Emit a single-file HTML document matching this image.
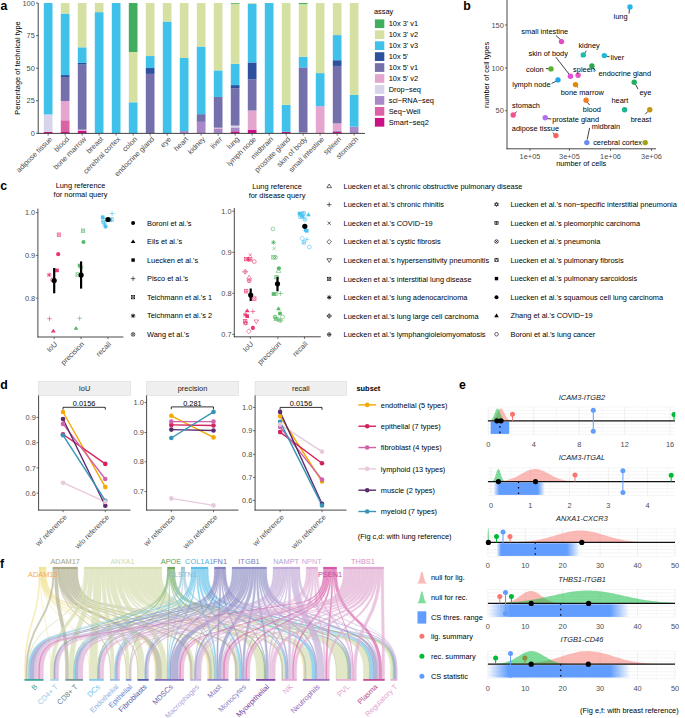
<!DOCTYPE html><html><head><meta charset="utf-8"><style>html,body{margin:0;padding:0;background:#fff;}svg{display:block;}text{font-family:"Liberation Sans",sans-serif;}</style></head><body>
<svg width="685" height="718" viewBox="0 0 685 718">
<rect width="685" height="718" fill="#fff"/>
<text x="0.40" y="9.80" font-size="12.3" text-anchor="start" fill="#000" font-weight="bold">a</text>
<rect x="43.80" y="132.00" width="8.70" height="1.30" fill="#cb0f85"/>
<rect x="43.80" y="114.41" width="8.70" height="17.59" fill="#d6d3ea"/>
<rect x="43.80" y="3.03" width="8.70" height="111.38" fill="#3fc1ea"/>
<line x1="48.15" y1="133.50" x2="48.15" y2="135.60" stroke="#333" stroke-width="0.7"/>
<text x="52.75" y="139.60" font-size="7.4" text-anchor="end" fill="#4d4d4d" transform="rotate(-45 52.75 139.60)">adipose tissue</text>
<rect x="60.80" y="132.00" width="8.70" height="1.30" fill="#cb0f85"/>
<rect x="60.80" y="120.27" width="8.70" height="11.72" fill="#dc62a6"/>
<rect x="60.80" y="100.99" width="8.70" height="19.28" fill="#e4a6ce"/>
<rect x="60.80" y="77.02" width="8.70" height="23.97" fill="#7470ac"/>
<rect x="60.80" y="75.07" width="8.70" height="1.95" fill="#2c519d"/>
<rect x="60.80" y="13.58" width="8.70" height="61.49" fill="#3fc1ea"/>
<rect x="60.80" y="3.03" width="8.70" height="10.55" fill="#d5e1a3"/>
<line x1="65.15" y1="133.50" x2="65.15" y2="135.60" stroke="#333" stroke-width="0.7"/>
<text x="69.75" y="139.60" font-size="7.4" text-anchor="end" fill="#4d4d4d" transform="rotate(-45 69.75 139.60)">blood</text>
<rect x="77.80" y="130.96" width="8.70" height="2.34" fill="#cb0f85"/>
<rect x="77.80" y="129.65" width="8.70" height="1.30" fill="#e4a6ce"/>
<rect x="77.80" y="64.65" width="8.70" height="65.00" fill="#7470ac"/>
<rect x="77.80" y="62.95" width="8.70" height="1.69" fill="#2c519d"/>
<rect x="77.80" y="47.32" width="8.70" height="15.63" fill="#3fc1ea"/>
<rect x="77.80" y="3.03" width="8.70" height="44.29" fill="#d5e1a3"/>
<line x1="82.15" y1="133.50" x2="82.15" y2="135.60" stroke="#333" stroke-width="0.7"/>
<text x="86.75" y="139.60" font-size="7.4" text-anchor="end" fill="#4d4d4d" transform="rotate(-45 86.75 139.60)">bone marrow</text>
<rect x="94.80" y="12.15" width="8.70" height="121.15" fill="#3fc1ea"/>
<rect x="94.80" y="3.03" width="8.70" height="9.12" fill="#d5e1a3"/>
<line x1="99.15" y1="133.50" x2="99.15" y2="135.60" stroke="#333" stroke-width="0.7"/>
<text x="103.75" y="139.60" font-size="7.4" text-anchor="end" fill="#4d4d4d" transform="rotate(-45 103.75 139.60)">breast</text>
<rect x="111.80" y="3.03" width="8.70" height="130.27" fill="#3fc1ea"/>
<line x1="116.15" y1="133.50" x2="116.15" y2="135.60" stroke="#333" stroke-width="0.7"/>
<text x="120.75" y="139.60" font-size="7.4" text-anchor="end" fill="#4d4d4d" transform="rotate(-45 120.75 139.60)">cerebral cortex</text>
<rect x="128.80" y="102.30" width="8.70" height="31.00" fill="#3fc1ea"/>
<rect x="128.80" y="52.01" width="8.70" height="50.28" fill="#d5e1a3"/>
<rect x="128.80" y="3.03" width="8.70" height="48.98" fill="#41ae5f"/>
<line x1="133.15" y1="133.50" x2="133.15" y2="135.60" stroke="#333" stroke-width="0.7"/>
<text x="137.75" y="139.60" font-size="7.4" text-anchor="end" fill="#4d4d4d" transform="rotate(-45 137.75 139.60)">colon</text>
<rect x="145.80" y="73.90" width="8.70" height="59.40" fill="#7470ac"/>
<rect x="145.80" y="68.03" width="8.70" height="5.86" fill="#2c519d"/>
<rect x="145.80" y="56.05" width="8.70" height="11.98" fill="#3fc1ea"/>
<rect x="145.80" y="3.03" width="8.70" height="53.02" fill="#d5e1a3"/>
<line x1="150.15" y1="133.50" x2="150.15" y2="135.60" stroke="#333" stroke-width="0.7"/>
<text x="154.75" y="139.60" font-size="7.4" text-anchor="end" fill="#4d4d4d" transform="rotate(-45 154.75 139.60)">endocrine gland</text>
<rect x="162.80" y="21.53" width="8.70" height="111.77" fill="#3fc1ea"/>
<rect x="162.80" y="3.03" width="8.70" height="18.50" fill="#d5e1a3"/>
<line x1="167.15" y1="133.50" x2="167.15" y2="135.60" stroke="#333" stroke-width="0.7"/>
<text x="171.75" y="139.60" font-size="7.4" text-anchor="end" fill="#4d4d4d" transform="rotate(-45 171.75 139.60)">eye</text>
<rect x="179.80" y="131.09" width="8.70" height="2.21" fill="#a888c8"/>
<rect x="179.80" y="58.00" width="8.70" height="73.08" fill="#3fc1ea"/>
<rect x="179.80" y="3.03" width="8.70" height="54.97" fill="#d5e1a3"/>
<line x1="184.15" y1="133.50" x2="184.15" y2="135.60" stroke="#333" stroke-width="0.7"/>
<text x="188.75" y="139.60" font-size="7.4" text-anchor="end" fill="#4d4d4d" transform="rotate(-45 188.75 139.60)">heart</text>
<rect x="196.80" y="121.84" width="8.70" height="11.46" fill="#a888c8"/>
<rect x="196.80" y="114.15" width="8.70" height="7.69" fill="#7470ac"/>
<rect x="196.80" y="46.54" width="8.70" height="67.61" fill="#3fc1ea"/>
<rect x="196.80" y="3.03" width="8.70" height="43.51" fill="#d5e1a3"/>
<line x1="201.15" y1="133.50" x2="201.15" y2="135.60" stroke="#333" stroke-width="0.7"/>
<text x="205.75" y="139.60" font-size="7.4" text-anchor="end" fill="#4d4d4d" transform="rotate(-45 205.75 139.60)">kidney</text>
<rect x="213.80" y="128.74" width="8.70" height="4.56" fill="#a888c8"/>
<rect x="213.80" y="127.70" width="8.70" height="1.04" fill="#e4a6ce"/>
<rect x="213.80" y="96.95" width="8.70" height="30.74" fill="#7470ac"/>
<rect x="213.80" y="70.38" width="8.70" height="26.58" fill="#3fc1ea"/>
<rect x="213.80" y="3.03" width="8.70" height="67.35" fill="#d5e1a3"/>
<line x1="218.15" y1="133.50" x2="218.15" y2="135.60" stroke="#333" stroke-width="0.7"/>
<text x="222.75" y="139.60" font-size="7.4" text-anchor="end" fill="#4d4d4d" transform="rotate(-45 222.75 139.60)">liver</text>
<rect x="230.80" y="131.35" width="8.70" height="1.95" fill="#cb0f85"/>
<rect x="230.80" y="127.44" width="8.70" height="3.91" fill="#a888c8"/>
<rect x="230.80" y="125.61" width="8.70" height="1.82" fill="#d6d3ea"/>
<rect x="230.80" y="88.23" width="8.70" height="37.39" fill="#7470ac"/>
<rect x="230.80" y="85.10" width="8.70" height="3.13" fill="#2c519d"/>
<rect x="230.80" y="63.87" width="8.70" height="21.23" fill="#3fc1ea"/>
<rect x="230.80" y="3.81" width="8.70" height="60.05" fill="#d5e1a3"/>
<rect x="230.80" y="3.03" width="8.70" height="0.78" fill="#41ae5f"/>
<line x1="235.15" y1="133.50" x2="235.15" y2="135.60" stroke="#333" stroke-width="0.7"/>
<text x="239.75" y="139.60" font-size="7.4" text-anchor="end" fill="#4d4d4d" transform="rotate(-45 239.75 139.60)">lung</text>
<rect x="247.80" y="129.65" width="8.70" height="3.65" fill="#cb0f85"/>
<rect x="247.80" y="110.50" width="8.70" height="19.15" fill="#e4a6ce"/>
<rect x="247.80" y="79.37" width="8.70" height="31.13" fill="#7470ac"/>
<rect x="247.80" y="62.43" width="8.70" height="16.94" fill="#2c519d"/>
<rect x="247.80" y="3.68" width="8.70" height="58.75" fill="#3fc1ea"/>
<rect x="247.80" y="3.03" width="8.70" height="0.65" fill="#d5e1a3"/>
<line x1="252.15" y1="133.50" x2="252.15" y2="135.60" stroke="#333" stroke-width="0.7"/>
<text x="256.75" y="139.60" font-size="7.4" text-anchor="end" fill="#4d4d4d" transform="rotate(-45 256.75 139.60)">lymph node</text>
<rect x="264.80" y="3.03" width="8.70" height="130.27" fill="#3fc1ea"/>
<line x1="269.15" y1="133.50" x2="269.15" y2="135.60" stroke="#333" stroke-width="0.7"/>
<text x="273.75" y="139.60" font-size="7.4" text-anchor="end" fill="#4d4d4d" transform="rotate(-45 273.75 139.60)">midbrain</text>
<rect x="281.80" y="131.74" width="8.70" height="1.56" fill="#cb0f85"/>
<rect x="281.80" y="104.90" width="8.70" height="26.84" fill="#3fc1ea"/>
<rect x="281.80" y="3.03" width="8.70" height="101.87" fill="#d5e1a3"/>
<line x1="286.15" y1="133.50" x2="286.15" y2="135.60" stroke="#333" stroke-width="0.7"/>
<text x="290.75" y="139.60" font-size="7.4" text-anchor="end" fill="#4d4d4d" transform="rotate(-45 290.75 139.60)">prostate gland</text>
<rect x="298.80" y="132.52" width="8.70" height="0.78" fill="#e4a6ce"/>
<rect x="298.80" y="67.38" width="8.70" height="65.13" fill="#7470ac"/>
<rect x="298.80" y="56.70" width="8.70" height="10.68" fill="#3fc1ea"/>
<rect x="298.80" y="4.07" width="8.70" height="52.63" fill="#d5e1a3"/>
<rect x="298.80" y="3.03" width="8.70" height="1.04" fill="#41ae5f"/>
<line x1="303.15" y1="133.50" x2="303.15" y2="135.60" stroke="#333" stroke-width="0.7"/>
<text x="307.75" y="139.60" font-size="7.4" text-anchor="end" fill="#4d4d4d" transform="rotate(-45 307.75 139.60)">skin of body</text>
<rect x="315.80" y="106.20" width="8.70" height="27.10" fill="#e4a6ce"/>
<rect x="315.80" y="73.12" width="8.70" height="33.09" fill="#3fc1ea"/>
<rect x="315.80" y="3.03" width="8.70" height="70.09" fill="#d5e1a3"/>
<line x1="320.15" y1="133.50" x2="320.15" y2="135.60" stroke="#333" stroke-width="0.7"/>
<text x="324.75" y="139.60" font-size="7.4" text-anchor="end" fill="#4d4d4d" transform="rotate(-45 324.75 139.60)">small intestine</text>
<rect x="332.80" y="132.00" width="8.70" height="1.30" fill="#cb0f85"/>
<rect x="332.80" y="130.56" width="8.70" height="1.43" fill="#a888c8"/>
<rect x="332.80" y="123.40" width="8.70" height="7.16" fill="#e4a6ce"/>
<rect x="332.80" y="65.95" width="8.70" height="57.45" fill="#7470ac"/>
<rect x="332.80" y="60.22" width="8.70" height="5.73" fill="#2c519d"/>
<rect x="332.80" y="35.08" width="8.70" height="25.14" fill="#3fc1ea"/>
<rect x="332.80" y="3.03" width="8.70" height="32.05" fill="#d5e1a3"/>
<line x1="337.15" y1="133.50" x2="337.15" y2="135.60" stroke="#333" stroke-width="0.7"/>
<text x="341.75" y="139.60" font-size="7.4" text-anchor="end" fill="#4d4d4d" transform="rotate(-45 341.75 139.60)">spleen</text>
<rect x="349.80" y="126.66" width="8.70" height="6.64" fill="#a888c8"/>
<rect x="349.80" y="94.87" width="8.70" height="31.79" fill="#3fc1ea"/>
<rect x="349.80" y="3.03" width="8.70" height="91.84" fill="#d5e1a3"/>
<line x1="354.15" y1="133.50" x2="354.15" y2="135.60" stroke="#333" stroke-width="0.7"/>
<text x="358.75" y="139.60" font-size="7.4" text-anchor="end" fill="#4d4d4d" transform="rotate(-45 358.75 139.60)">stomach</text>
<line x1="38.20" y1="3.00" x2="38.20" y2="133.90" stroke="#444" stroke-width="1.0"/>
<line x1="37.70" y1="133.40" x2="365.00" y2="133.40" stroke="#444" stroke-width="1.0"/>
<line x1="36.00" y1="133.30" x2="38.20" y2="133.30" stroke="#444" stroke-width="0.8"/>
<text x="34.80" y="135.96" font-size="7.4" text-anchor="end" fill="#4d4d4d">0</text>
<line x1="36.00" y1="100.73" x2="38.20" y2="100.73" stroke="#444" stroke-width="0.8"/>
<text x="34.80" y="103.40" font-size="7.4" text-anchor="end" fill="#4d4d4d">25</text>
<line x1="36.00" y1="68.17" x2="38.20" y2="68.17" stroke="#444" stroke-width="0.8"/>
<text x="34.80" y="70.83" font-size="7.4" text-anchor="end" fill="#4d4d4d">50</text>
<line x1="36.00" y1="35.60" x2="38.20" y2="35.60" stroke="#444" stroke-width="0.8"/>
<text x="34.80" y="38.26" font-size="7.4" text-anchor="end" fill="#4d4d4d">75</text>
<line x1="36.00" y1="3.03" x2="38.20" y2="3.03" stroke="#444" stroke-width="0.8"/>
<text x="34.80" y="5.69" font-size="7.4" text-anchor="end" fill="#4d4d4d">100</text>
<text x="20.16" y="68.00" font-size="7.4" text-anchor="middle" fill="#000" transform="rotate(-90 20.16 68.00)">Percentage of technical type</text>
<text x="374.00" y="14.26" font-size="7.4" text-anchor="start" fill="#000">assay</text>
<rect x="374.90" y="19.40" width="9.40" height="8.70" fill="#41ae5f"/>
<text x="388.70" y="26.41" font-size="7.4" text-anchor="start" fill="#000">10x 3' v1</text>
<rect x="374.90" y="30.35" width="9.40" height="8.70" fill="#d5e1a3"/>
<text x="388.70" y="37.36" font-size="7.4" text-anchor="start" fill="#000">10x 3' v2</text>
<rect x="374.90" y="41.30" width="9.40" height="8.70" fill="#3fc1ea"/>
<text x="388.70" y="48.31" font-size="7.4" text-anchor="start" fill="#000">10x 3' v3</text>
<rect x="374.90" y="52.25" width="9.40" height="8.70" fill="#2c519d"/>
<text x="388.70" y="59.26" font-size="7.4" text-anchor="start" fill="#000">10x 5'</text>
<rect x="374.90" y="63.20" width="9.40" height="8.70" fill="#7470ac"/>
<text x="388.70" y="70.21" font-size="7.4" text-anchor="start" fill="#000">10x 5' v1</text>
<rect x="374.90" y="74.15" width="9.40" height="8.70" fill="#e4a6ce"/>
<text x="388.70" y="81.16" font-size="7.4" text-anchor="start" fill="#000">10x 5' v2</text>
<rect x="374.90" y="85.10" width="9.40" height="8.70" fill="#d6d3ea"/>
<text x="388.70" y="92.11" font-size="7.4" text-anchor="start" fill="#000">Drop−seq</text>
<rect x="374.90" y="96.05" width="9.40" height="8.70" fill="#a888c8"/>
<text x="388.70" y="103.06" font-size="7.4" text-anchor="start" fill="#000">sci−RNA−seq</text>
<rect x="374.90" y="107.00" width="9.40" height="8.70" fill="#dc62a6"/>
<text x="388.70" y="114.01" font-size="7.4" text-anchor="start" fill="#000">Seq−Well</text>
<rect x="374.90" y="117.95" width="9.40" height="8.70" fill="#cb0f85"/>
<text x="388.70" y="124.96" font-size="7.4" text-anchor="start" fill="#000">Smart−seq2</text>
<text x="463.30" y="9.80" font-size="12.3" text-anchor="start" fill="#000" font-weight="bold">b</text>
<line x1="507.00" y1="0.00" x2="507.00" y2="149.20" stroke="#333" stroke-width="0.9"/>
<line x1="506.60" y1="148.80" x2="656.00" y2="148.80" stroke="#333" stroke-width="0.9"/>
<line x1="504.90" y1="25.00" x2="507.00" y2="25.00" stroke="#333" stroke-width="0.7"/>
<text x="503.80" y="27.66" font-size="7.4" text-anchor="end" fill="#4d4d4d">150</text>
<line x1="504.90" y1="68.00" x2="507.00" y2="68.00" stroke="#333" stroke-width="0.7"/>
<text x="503.80" y="70.66" font-size="7.4" text-anchor="end" fill="#4d4d4d">100</text>
<line x1="504.90" y1="110.70" x2="507.00" y2="110.70" stroke="#333" stroke-width="0.7"/>
<text x="503.80" y="113.36" font-size="7.4" text-anchor="end" fill="#4d4d4d">50</text>
<line x1="530.00" y1="148.80" x2="530.00" y2="150.90" stroke="#333" stroke-width="0.7"/>
<text x="530.00" y="158.56" font-size="7.4" text-anchor="middle" fill="#4d4d4d">1e+05</text>
<line x1="569.40" y1="148.80" x2="569.40" y2="150.90" stroke="#333" stroke-width="0.7"/>
<text x="569.40" y="158.56" font-size="7.4" text-anchor="middle" fill="#4d4d4d">3e+05</text>
<line x1="610.50" y1="148.80" x2="610.50" y2="150.90" stroke="#333" stroke-width="0.7"/>
<text x="610.50" y="158.56" font-size="7.4" text-anchor="middle" fill="#4d4d4d">1e+06</text>
<line x1="651.50" y1="148.80" x2="651.50" y2="150.90" stroke="#333" stroke-width="0.7"/>
<text x="651.50" y="158.56" font-size="7.4" text-anchor="middle" fill="#4d4d4d">3e+06</text>
<text x="581.20" y="166.46" font-size="7.4" text-anchor="middle" fill="#000">number of cells</text>
<text x="488.96" y="74.90" font-size="7.4" text-anchor="middle" fill="#000" transform="rotate(-90 488.96 74.90)">number of cell types</text>
<line x1="629.50" y1="8.90" x2="629.00" y2="13.50" stroke="#000" stroke-width="0.75"/>
<line x1="555.90" y1="35.50" x2="560.60" y2="39.70" stroke="#000" stroke-width="0.75"/>
<line x1="584.50" y1="53.50" x2="586.30" y2="50.80" stroke="#000" stroke-width="0.75"/>
<line x1="606.00" y1="56.00" x2="609.50" y2="56.80" stroke="#000" stroke-width="0.75"/>
<line x1="555.90" y1="57.20" x2="569.50" y2="74.70" stroke="#000" stroke-width="0.75"/>
<line x1="592.60" y1="67.30" x2="595.60" y2="70.50" stroke="#000" stroke-width="0.75"/>
<line x1="545.90" y1="68.50" x2="549.40" y2="68.90" stroke="#000" stroke-width="0.75"/>
<line x1="551.70" y1="83.40" x2="556.90" y2="80.80" stroke="#000" stroke-width="0.75"/>
<line x1="576.20" y1="86.00" x2="577.90" y2="87.40" stroke="#000" stroke-width="0.75"/>
<line x1="635.30" y1="84.10" x2="638.10" y2="89.20" stroke="#000" stroke-width="0.75"/>
<line x1="587.20" y1="102.20" x2="589.60" y2="105.00" stroke="#000" stroke-width="0.75"/>
<line x1="648.00" y1="111.30" x2="645.20" y2="114.30" stroke="#000" stroke-width="0.75"/>
<line x1="514.30" y1="113.90" x2="516.70" y2="111.50" stroke="#000" stroke-width="0.75"/>
<line x1="547.00" y1="118.50" x2="551.30" y2="119.00" stroke="#000" stroke-width="0.75"/>
<line x1="552.90" y1="132.60" x2="554.60" y2="134.40" stroke="#000" stroke-width="0.75"/>
<line x1="587.20" y1="139.60" x2="589.60" y2="127.90" stroke="#000" stroke-width="0.75"/>
<circle cx="630.00" cy="7.00" r="2.7" fill="#26b5e9"/>
<circle cx="561.50" cy="41.60" r="2.7" fill="#e24bc4"/>
<circle cx="583.30" cy="54.90" r="2.7" fill="#1abdb0"/>
<circle cx="604.30" cy="55.60" r="2.7" fill="#22b7d4"/>
<circle cx="570.40" cy="76.20" r="2.7" fill="#e64bd6"/>
<circle cx="591.90" cy="65.90" r="2.7" fill="#2aa84a"/>
<circle cx="551.00" cy="68.90" r="2.7" fill="#5ab02e"/>
<circle cx="558.00" cy="79.90" r="2.7" fill="#1fa7ea"/>
<circle cx="575.50" cy="84.60" r="2.7" fill="#e0890b"/>
<circle cx="578.10" cy="75.20" r="2.7" fill="#e853c2"/>
<circle cx="634.20" cy="82.20" r="2.7" fill="#25ae62"/>
<circle cx="586.10" cy="100.30" r="2.7" fill="#f47b20"/>
<circle cx="624.60" cy="109.70" r="2.7" fill="#1fb38f"/>
<circle cx="649.80" cy="109.70" r="2.7" fill="#c0990e"/>
<circle cx="513.20" cy="115.00" r="2.7" fill="#f3508e"/>
<circle cx="545.20" cy="117.80" r="2.7" fill="#b46ef5"/>
<circle cx="555.90" cy="135.60" r="2.7" fill="#f4625e"/>
<circle cx="586.80" cy="142.60" r="2.7" fill="#6a8cf2"/>
<circle cx="645.20" cy="142.60" r="2.7" fill="#a3a30d"/>
<text x="620.60" y="19.46" font-size="7.4" text-anchor="middle" fill="#000">lung</text>
<text x="544.70" y="33.76" font-size="7.4" text-anchor="middle" fill="#000">small intestine</text>
<text x="589.10" y="48.46" font-size="7.4" text-anchor="middle" fill="#000">kidney</text>
<text x="610.60" y="59.86" font-size="7.4" text-anchor="start" fill="#000">liver</text>
<text x="548.20" y="55.96" font-size="7.4" text-anchor="middle" fill="#000">skin of body</text>
<text x="624.80" y="76.26" font-size="7.4" text-anchor="middle" fill="#000">endocrine gland</text>
<text x="534.90" y="72.06" font-size="7.4" text-anchor="middle" fill="#000">colon</text>
<text x="531.40" y="87.26" font-size="7.4" text-anchor="middle" fill="#000">lymph node</text>
<text x="582.30" y="95.16" font-size="7.4" text-anchor="middle" fill="#000">bone marrow</text>
<text x="584.00" y="72.06" font-size="7.4" text-anchor="middle" fill="#000">spleen</text>
<text x="645.40" y="94.96" font-size="7.4" text-anchor="middle" fill="#000">eye</text>
<text x="591.90" y="112.36" font-size="7.4" text-anchor="middle" fill="#000">blood</text>
<text x="619.90" y="103.26" font-size="7.4" text-anchor="middle" fill="#000">heart</text>
<text x="641.00" y="121.86" font-size="7.4" text-anchor="middle" fill="#000">breast</text>
<text x="526.00" y="108.36" font-size="7.4" text-anchor="middle" fill="#000">stomach</text>
<text x="552.20" y="121.86" font-size="7.4" text-anchor="start" fill="#000">prostate gland</text>
<text x="535.40" y="130.56" font-size="7.4" text-anchor="middle" fill="#000">adipose tissue</text>
<text x="605.90" y="128.66" font-size="7.4" text-anchor="middle" fill="#000">midbrain</text>
<text x="617.60" y="145.26" font-size="7.4" text-anchor="middle" fill="#000">cerebral cortex</text>
<text x="0.20" y="189.70" font-size="12.3" text-anchor="start" fill="#000" font-weight="bold">c</text>
<text x="80.50" y="188.36" font-size="7.4" text-anchor="middle" fill="#000">Lung reference</text>
<text x="80.50" y="197.06" font-size="7.4" text-anchor="middle" fill="#000">for normal query</text>
<line x1="37.90" y1="208.60" x2="37.90" y2="337.40" stroke="#333" stroke-width="0.9"/>
<line x1="37.50" y1="337.00" x2="123.40" y2="337.00" stroke="#333" stroke-width="0.9"/>
<line x1="35.80" y1="212.60" x2="37.90" y2="212.60" stroke="#333" stroke-width="0.7"/>
<text x="35.20" y="215.26" font-size="7.4" text-anchor="end" fill="#4d4d4d">1.0</text>
<line x1="35.80" y1="255.40" x2="37.90" y2="255.40" stroke="#333" stroke-width="0.7"/>
<text x="35.20" y="258.06" font-size="7.4" text-anchor="end" fill="#4d4d4d">0.9</text>
<line x1="35.80" y1="298.10" x2="37.90" y2="298.10" stroke="#333" stroke-width="0.7"/>
<text x="35.20" y="300.76" font-size="7.4" text-anchor="end" fill="#4d4d4d">0.8</text>
<line x1="54.20" y1="337.00" x2="54.20" y2="339.10" stroke="#333" stroke-width="0.7"/>
<text x="57.80" y="344.60" font-size="7.4" text-anchor="end" fill="#4d4d4d" transform="rotate(-45 57.80 344.60)">IoU</text>
<line x1="81.10" y1="337.00" x2="81.10" y2="339.10" stroke="#333" stroke-width="0.7"/>
<text x="84.70" y="344.60" font-size="7.4" text-anchor="end" fill="#4d4d4d" transform="rotate(-45 84.70 344.60)">precision</text>
<line x1="108.00" y1="337.00" x2="108.00" y2="339.10" stroke="#333" stroke-width="0.7"/>
<text x="111.60" y="344.60" font-size="7.4" text-anchor="end" fill="#4d4d4d" transform="rotate(-45 111.60 344.60)">recall</text>
<rect x="57.20" y="233.00" width="3.40" height="3.40" fill="none" stroke="#e8386e" stroke-width="0.6"/>
<path d="M57.20 233.00L60.60 236.40M57.20 236.40L60.60 233.00" fill="none" stroke="#e8386e" stroke-width="0.6"/>
<circle cx="58.20" cy="254.20" r="2.10" fill="#e8386e"/>
<rect x="55.20" y="268.60" width="3.60" height="3.60" fill="#e8386e"/>
<path d="M46.90 274.90H51.50M49.20 272.60V277.20M47.48 273.17L50.93 276.62M47.48 276.62L50.93 273.17" fill="none" stroke="#e8386e" stroke-width="0.78"/>
<circle cx="52.50" cy="279.80" r="1.90" fill="none" stroke="#e8386e" stroke-width="0.6"/>
<path d="M51.17 278.47L53.83 281.13M51.17 281.13L53.83 278.47" fill="none" stroke="#e8386e" stroke-width="0.6"/>
<path d="M47.10 318.70H51.90M49.50 316.30V321.10" fill="none" stroke="#e8386e" stroke-width="0.6"/>
<polygon points="53.30,328.70 50.88,332.55 55.72,332.55" fill="#e8386e"/>
<rect x="81.30" y="229.00" width="3.40" height="3.40" fill="none" stroke="#5ab86a" stroke-width="0.6"/>
<path d="M81.30 229.00L84.70 232.40M81.30 232.40L84.70 229.00" fill="none" stroke="#5ab86a" stroke-width="0.6"/>
<circle cx="83.50" cy="242.00" r="2.10" fill="#5ab86a"/>
<rect x="77.80" y="263.70" width="3.60" height="3.60" fill="#5ab86a"/>
<path d="M78.80 267.30H83.40M81.10 265.00V269.60M79.38 265.57L82.82 269.03M79.38 269.03L82.82 265.57" fill="none" stroke="#5ab86a" stroke-width="0.78"/>
<rect x="76.00" y="272.80" width="3.40" height="3.40" fill="none" stroke="#5ab86a" stroke-width="0.6"/>
<path d="M76.00 272.80L79.40 276.20M76.00 276.20L79.40 272.80" fill="none" stroke="#5ab86a" stroke-width="0.6"/>
<path d="M77.20 318.30H82.00M79.60 315.90V320.70" fill="none" stroke="#5ab86a" stroke-width="0.6"/>
<polygon points="76.00,325.90 73.58,329.75 78.42,329.75" fill="#5ab86a"/>
<path d="M109.70 213.50H114.50M112.10 211.10V215.90" fill="none" stroke="#4cc2f0" stroke-width="0.6"/>
<rect x="100.90" y="215.40" width="3.60" height="3.60" fill="#4cc2f0"/>
<rect x="101.90" y="217.90" width="3.40" height="3.40" fill="none" stroke="#4cc2f0" stroke-width="0.6"/>
<path d="M101.90 217.90L105.30 221.30M101.90 221.30L105.30 217.90" fill="none" stroke="#4cc2f0" stroke-width="0.6"/>
<circle cx="103.30" cy="222.00" r="1.90" fill="none" stroke="#4cc2f0" stroke-width="0.6"/>
<path d="M101.97 220.67L104.63 223.33M101.97 223.33L104.63 220.67" fill="none" stroke="#4cc2f0" stroke-width="0.6"/>
<path d="M102.30 224.00H106.90M104.60 221.70V226.30M102.88 222.28L106.32 225.72M102.88 225.72L106.32 222.28" fill="none" stroke="#4cc2f0" stroke-width="0.78"/>
<rect x="108.40" y="218.20" width="3.60" height="3.60" fill="#4cc2f0"/>
<rect x="109.80" y="217.80" width="3.40" height="3.40" fill="none" stroke="#4cc2f0" stroke-width="0.6"/>
<path d="M109.80 217.80L113.20 221.20M109.80 221.20L113.20 217.80" fill="none" stroke="#4cc2f0" stroke-width="0.6"/>
<circle cx="105.50" cy="226.60" r="2.10" fill="#4cc2f0"/>
<line x1="54.20" y1="268.00" x2="54.20" y2="293.30" stroke="#000" stroke-width="2.2"/>
<circle cx="54.20" cy="280.50" r="2.6" fill="#000"/>
<line x1="81.10" y1="261.40" x2="81.10" y2="288.60" stroke="#000" stroke-width="2.2"/>
<circle cx="81.10" cy="275.10" r="2.6" fill="#000"/>
<circle cx="108.00" cy="219.50" r="2.6" fill="#000"/>
<circle cx="133.10" cy="222.90" r="1.99" fill="#000"/>
<text x="147.00" y="225.56" font-size="7.4" text-anchor="start" fill="#000">Boroni et al.'s</text>
<polygon points="133.10,239.39 130.80,243.05 135.40,243.05" fill="#000"/>
<text x="147.00" y="244.14" font-size="7.4" text-anchor="start" fill="#000">Eils et al.'s</text>
<rect x="131.39" y="258.35" width="3.42" height="3.42" fill="#000"/>
<text x="147.00" y="262.72" font-size="7.4" text-anchor="start" fill="#000">Luecken et al.'s</text>
<path d="M130.82 278.64H135.38M133.10 276.36V280.92" fill="none" stroke="#000" stroke-width="0.6"/>
<text x="147.00" y="281.30" font-size="7.4" text-anchor="start" fill="#000">Pisco et al.'s</text>
<rect x="131.48" y="295.61" width="3.23" height="3.23" fill="none" stroke="#000" stroke-width="0.6"/>
<path d="M131.48 295.61L134.72 298.84M131.48 298.84L134.72 295.61" fill="none" stroke="#000" stroke-width="0.6"/>
<text x="147.00" y="299.88" font-size="7.4" text-anchor="start" fill="#000">Teichmann et al.'s 1</text>
<path d="M130.91 315.80H135.28M133.10 313.62V317.99M131.46 314.16L134.74 317.44M131.46 317.44L134.74 314.16" fill="none" stroke="#000" stroke-width="0.78"/>
<text x="147.00" y="318.46" font-size="7.4" text-anchor="start" fill="#000">Teichmann et al.'s 2</text>
<circle cx="133.10" cy="334.38" r="1.80" fill="none" stroke="#000" stroke-width="0.6"/>
<path d="M131.84 333.12L134.36 335.64M131.84 335.64L134.36 333.12" fill="none" stroke="#000" stroke-width="0.6"/>
<text x="147.00" y="337.04" font-size="7.4" text-anchor="start" fill="#000">Wang et al.'s</text>
<text x="277.00" y="188.66" font-size="7.4" text-anchor="middle" fill="#000">Lung reference</text>
<text x="277.00" y="197.66" font-size="7.4" text-anchor="middle" fill="#000">for disease query</text>
<line x1="234.30" y1="208.00" x2="234.30" y2="337.20" stroke="#333" stroke-width="0.9"/>
<line x1="233.90" y1="336.80" x2="320.80" y2="336.80" stroke="#333" stroke-width="0.9"/>
<line x1="232.20" y1="211.20" x2="234.30" y2="211.20" stroke="#333" stroke-width="0.7"/>
<text x="231.60" y="213.86" font-size="7.4" text-anchor="end" fill="#4d4d4d">1.0</text>
<line x1="232.20" y1="252.30" x2="234.30" y2="252.30" stroke="#333" stroke-width="0.7"/>
<text x="231.60" y="254.96" font-size="7.4" text-anchor="end" fill="#4d4d4d">0.9</text>
<line x1="232.20" y1="293.30" x2="234.30" y2="293.30" stroke="#333" stroke-width="0.7"/>
<text x="231.60" y="295.96" font-size="7.4" text-anchor="end" fill="#4d4d4d">0.8</text>
<line x1="232.20" y1="334.40" x2="234.30" y2="334.40" stroke="#333" stroke-width="0.7"/>
<text x="231.60" y="337.06" font-size="7.4" text-anchor="end" fill="#4d4d4d">0.7</text>
<line x1="250.30" y1="336.80" x2="250.30" y2="338.90" stroke="#333" stroke-width="0.7"/>
<text x="253.90" y="344.40" font-size="7.4" text-anchor="end" fill="#4d4d4d" transform="rotate(-45 253.90 344.40)">IoU</text>
<line x1="277.90" y1="336.80" x2="277.90" y2="338.90" stroke="#333" stroke-width="0.7"/>
<text x="281.50" y="344.40" font-size="7.4" text-anchor="end" fill="#4d4d4d" transform="rotate(-45 281.50 344.40)">precision</text>
<line x1="304.50" y1="336.80" x2="304.50" y2="338.90" stroke="#333" stroke-width="0.7"/>
<text x="308.10" y="344.40" font-size="7.4" text-anchor="end" fill="#4d4d4d" transform="rotate(-45 308.10 344.40)">recall</text>
<path d="M248.60 253.30L252.00 256.70M248.60 256.70L252.00 253.30" fill="none" stroke="#e8386e" stroke-width="0.6"/>
<rect x="244.50" y="257.50" width="3.40" height="3.40" fill="none" stroke="#e8386e" stroke-width="0.6"/>
<path d="M244.50 257.50L247.90 260.90M244.50 260.90L247.90 257.50" fill="none" stroke="#e8386e" stroke-width="0.6"/>
<path d="M246.00 259.20H250.60M248.30 256.90V261.50M246.58 257.47L250.03 260.93M246.58 260.93L250.03 257.47" fill="none" stroke="#e8386e" stroke-width="0.78"/>
<rect x="248.60" y="257.70" width="3.40" height="3.40" fill="none" stroke="#e8386e" stroke-width="0.6"/>
<path d="M248.60 259.40H252.00M250.30 257.70V261.10" fill="none" stroke="#e8386e" stroke-width="0.6"/>
<circle cx="254.30" cy="261.60" r="1.90" fill="none" stroke="#e8386e" stroke-width="0.6"/>
<polygon points="245.20,269.30 247.60,271.70 245.20,274.10 242.80,271.70" fill="none" stroke="#e8386e" stroke-width="0.6"/>
<path d="M242.80 271.70H247.60M245.20 269.30V274.10" fill="none" stroke="#e8386e" stroke-width="0.6"/>
<polygon points="249.20,275.20 246.78,279.05 251.62,279.05" fill="none" stroke="#e8386e" stroke-width="0.6"/>
<circle cx="249.20" cy="280.80" r="1.90" fill="none" stroke="#e8386e" stroke-width="0.6"/>
<path d="M247.30 280.80H251.10M249.20 278.90V282.70" fill="none" stroke="#e8386e" stroke-width="0.6"/>
<rect x="244.50" y="289.60" width="3.40" height="3.40" fill="none" stroke="#e8386e" stroke-width="0.6"/>
<path d="M244.50 291.30H247.90M246.20 289.60V293.00" fill="none" stroke="#e8386e" stroke-width="0.6"/>
<rect x="252.60" y="296.90" width="3.40" height="3.40" fill="none" stroke="#e8386e" stroke-width="0.6"/>
<path d="M252.60 296.90L256.00 300.30M252.60 300.30L256.00 296.90" fill="none" stroke="#e8386e" stroke-width="0.6"/>
<polygon points="247.20,308.50 244.78,312.35 249.62,312.35" fill="#e8386e"/>
<path d="M250.50 311.50H255.30M252.90 309.10V313.90" fill="none" stroke="#e8386e" stroke-width="0.6"/>
<path d="M242.90 314.70H247.50M245.20 312.40V317.00M243.47 312.97L246.92 316.43M243.47 316.43L246.92 312.97" fill="none" stroke="#e8386e" stroke-width="0.78"/>
<rect x="245.40" y="314.40" width="3.60" height="3.60" fill="#e8386e"/>
<rect x="243.50" y="319.50" width="3.40" height="3.40" fill="none" stroke="#e8386e" stroke-width="0.6"/>
<path d="M243.50 322.90L245.20 319.50L246.90 322.90" fill="none" stroke="#e8386e" stroke-width="0.6"/>
<polygon points="245.60,321.00 243.60,324.40 247.60,324.40" fill="none" stroke="#e8386e" stroke-width="0.6"/>
<polygon points="245.60,325.40 243.60,322.00 247.60,322.00" fill="none" stroke="#e8386e" stroke-width="0.6"/>
<polygon points="256.30,323.80 253.88,319.95 258.72,319.95" fill="none" stroke="#e8386e" stroke-width="0.6"/>
<circle cx="252.90" cy="327.90" r="2.10" fill="#e8386e"/>
<polygon points="248.80,328.90 251.20,331.30 248.80,333.70 246.40,331.30" fill="none" stroke="#e8386e" stroke-width="0.6"/>
<circle cx="272.90" cy="228.90" r="1.90" fill="none" stroke="#5ab86a" stroke-width="0.6"/>
<path d="M271.20 242.40H275.80M273.50 240.10V244.70M271.77 240.68L275.23 244.12M271.77 244.12L275.23 240.68" fill="none" stroke="#5ab86a" stroke-width="0.78"/>
<path d="M272.40 246.80L275.80 250.20M272.40 250.20L275.80 246.80" fill="none" stroke="#5ab86a" stroke-width="0.6"/>
<rect x="271.80" y="255.70" width="3.40" height="3.40" fill="none" stroke="#5ab86a" stroke-width="0.6"/>
<path d="M271.80 255.70L275.20 259.10M271.80 259.10L275.20 255.70" fill="none" stroke="#5ab86a" stroke-width="0.6"/>
<circle cx="275.60" cy="257.40" r="1.90" fill="none" stroke="#5ab86a" stroke-width="0.6"/>
<path d="M274.27 256.07L276.93 258.73M274.27 258.73L276.93 256.07" fill="none" stroke="#5ab86a" stroke-width="0.6"/>
<circle cx="278.90" cy="268.30" r="2.10" fill="#5ab86a"/>
<polygon points="278.50,268.50 276.08,272.35 280.92,272.35" fill="none" stroke="#5ab86a" stroke-width="0.6"/>
<rect x="274.80" y="275.50" width="3.40" height="3.40" fill="none" stroke="#5ab86a" stroke-width="0.6"/>
<path d="M274.80 278.90L276.50 275.50L278.20 278.90" fill="none" stroke="#5ab86a" stroke-width="0.6"/>
<rect x="271.70" y="292.20" width="3.60" height="3.60" fill="#5ab86a"/>
<rect x="273.80" y="292.30" width="3.40" height="3.40" fill="none" stroke="#5ab86a" stroke-width="0.6"/>
<path d="M273.80 294.00H277.20M275.50 292.30V295.70" fill="none" stroke="#5ab86a" stroke-width="0.6"/>
<path d="M278.20 293.50H283.00M280.60 291.10V295.90" fill="none" stroke="#5ab86a" stroke-width="0.6"/>
<polygon points="278.50,306.30 276.08,310.15 280.92,310.15" fill="#5ab86a"/>
<rect x="278.20" y="311.70" width="3.60" height="3.60" fill="#5ab86a"/>
<polygon points="275.00,314.80 273.00,318.20 277.00,318.20" fill="none" stroke="#5ab86a" stroke-width="0.6"/>
<polygon points="275.00,319.20 273.00,315.80 277.00,315.80" fill="none" stroke="#5ab86a" stroke-width="0.6"/>
<polygon points="278.00,317.10 280.40,319.50 278.00,321.90 275.60,319.50" fill="none" stroke="#5ab86a" stroke-width="0.6"/>
<path d="M275.60 319.50H280.40M278.00 317.10V321.90" fill="none" stroke="#5ab86a" stroke-width="0.6"/>
<circle cx="282.60" cy="317.00" r="1.90" fill="none" stroke="#5ab86a" stroke-width="0.6"/>
<circle cx="280.50" cy="320.50" r="1.90" fill="none" stroke="#5ab86a" stroke-width="0.6"/>
<path d="M278.60 320.50H282.40M280.50 318.60V322.40" fill="none" stroke="#5ab86a" stroke-width="0.6"/>
<rect x="274.30" y="317.30" width="3.40" height="3.40" fill="none" stroke="#5ab86a" stroke-width="0.6"/>
<path d="M274.30 320.70L276.00 317.30L277.70 320.70" fill="none" stroke="#5ab86a" stroke-width="0.6"/>
<rect x="297.70" y="211.70" width="3.60" height="3.60" fill="#4cc2f0"/>
<rect x="299.80" y="212.30" width="3.40" height="3.40" fill="none" stroke="#4cc2f0" stroke-width="0.6"/>
<path d="M299.80 212.30L303.20 215.70M299.80 215.70L303.20 212.30" fill="none" stroke="#4cc2f0" stroke-width="0.6"/>
<rect x="301.80" y="211.50" width="3.40" height="3.40" fill="none" stroke="#4cc2f0" stroke-width="0.6"/>
<path d="M301.80 214.90L303.50 211.50L305.20 214.90" fill="none" stroke="#4cc2f0" stroke-width="0.6"/>
<polygon points="308.50,212.30 306.08,216.15 310.92,216.15" fill="#4cc2f0"/>
<rect x="298.80" y="214.80" width="3.40" height="3.40" fill="none" stroke="#4cc2f0" stroke-width="0.6"/>
<path d="M298.80 216.50H302.20M300.50 214.80V218.20" fill="none" stroke="#4cc2f0" stroke-width="0.6"/>
<path d="M300.70 217.00H305.30M303.00 214.70V219.30M301.27 215.28L304.73 218.72M301.27 218.72L304.73 215.28" fill="none" stroke="#4cc2f0" stroke-width="0.78"/>
<circle cx="305.00" cy="219.50" r="1.90" fill="none" stroke="#4cc2f0" stroke-width="0.6"/>
<path d="M303.67 218.17L306.33 220.83M303.67 220.83L306.33 218.17" fill="none" stroke="#4cc2f0" stroke-width="0.6"/>
<circle cx="302.00" cy="215.50" r="1.90" fill="none" stroke="#4cc2f0" stroke-width="0.6"/>
<path d="M300.10 215.50H303.90M302.00 213.60V217.40" fill="none" stroke="#4cc2f0" stroke-width="0.6"/>
<circle cx="305.80" cy="230.30" r="2.10" fill="#4cc2f0"/>
<rect x="305.00" y="229.00" width="3.60" height="3.60" fill="#4cc2f0"/>
<polygon points="302.20,236.00 304.60,238.40 302.20,240.80 299.80,238.40" fill="none" stroke="#4cc2f0" stroke-width="0.6"/>
<path d="M304.40 239.40H309.20M306.80 237.00V241.80" fill="none" stroke="#4cc2f0" stroke-width="0.6"/>
<rect x="302.10" y="240.70" width="3.40" height="3.40" fill="none" stroke="#4cc2f0" stroke-width="0.6"/>
<path d="M302.10 242.40H305.50M303.80 240.70V244.10" fill="none" stroke="#4cc2f0" stroke-width="0.6"/>
<circle cx="309.40" cy="246.90" r="1.90" fill="none" stroke="#4cc2f0" stroke-width="0.6"/>
<line x1="250.70" y1="288.50" x2="250.70" y2="301.00" stroke="#000" stroke-width="2.2"/>
<circle cx="250.70" cy="295.00" r="2.6" fill="#000"/>
<line x1="277.50" y1="276.80" x2="277.50" y2="291.30" stroke="#000" stroke-width="2.2"/>
<circle cx="277.50" cy="283.80" r="2.6" fill="#000"/>
<circle cx="304.80" cy="226.30" r="2.6" fill="#000"/>
<polygon points="329.20,184.01 326.90,187.67 331.50,187.67" fill="none" stroke="#000" stroke-width="0.6"/>
<text x="343.60" y="188.76" font-size="7.4" text-anchor="start" fill="#000">Luecken et al.'s chronic obstructive pulmonary disease</text>
<path d="M326.92 204.65H331.48M329.20 202.37V206.93" fill="none" stroke="#000" stroke-width="0.6"/>
<text x="343.60" y="207.31" font-size="7.4" text-anchor="start" fill="#000">Luecken et al.'s chronic rhinitis</text>
<path d="M327.58 221.58L330.81 224.81M327.58 224.81L330.81 221.58" fill="none" stroke="#000" stroke-width="0.6"/>
<text x="343.60" y="225.86" font-size="7.4" text-anchor="start" fill="#000">Luecken et al.'s COVID−19</text>
<polygon points="329.20,239.47 331.48,241.75 329.20,244.03 326.92,241.75" fill="none" stroke="#000" stroke-width="0.6"/>
<text x="343.60" y="244.41" font-size="7.4" text-anchor="start" fill="#000">Luecken et al.'s cystic fibrosis</text>
<polygon points="329.20,262.39 326.90,258.73 331.50,258.73" fill="none" stroke="#000" stroke-width="0.6"/>
<text x="343.60" y="262.96" font-size="7.4" text-anchor="start" fill="#000">Luecken et al.'s hypersensitivity pneumonitis</text>
<rect x="327.58" y="277.24" width="3.23" height="3.23" fill="none" stroke="#000" stroke-width="0.6"/>
<path d="M327.58 277.24L330.81 280.47M327.58 280.47L330.81 277.24" fill="none" stroke="#000" stroke-width="0.6"/>
<text x="343.60" y="281.51" font-size="7.4" text-anchor="start" fill="#000">Luecken et al.'s interstitial lung disease</text>
<path d="M327.01 297.40H331.38M329.20 295.21V299.58M327.56 295.76L330.84 299.04M327.56 299.04L330.84 295.76" fill="none" stroke="#000" stroke-width="0.78"/>
<text x="343.60" y="300.06" font-size="7.4" text-anchor="start" fill="#000">Luecken et al.'s lung adenocarcinoma</text>
<polygon points="329.20,313.67 331.48,315.95 329.20,318.23 326.92,315.95" fill="none" stroke="#000" stroke-width="0.6"/>
<path d="M326.92 315.95H331.48M329.20 313.67V318.23" fill="none" stroke="#000" stroke-width="0.6"/>
<text x="343.60" y="318.61" font-size="7.4" text-anchor="start" fill="#000">Luecken et al.'s lung large cell carcinoma</text>
<circle cx="329.20" cy="334.50" r="1.80" fill="none" stroke="#000" stroke-width="0.6"/>
<path d="M327.39 334.50H331.00M329.20 332.69V336.31" fill="none" stroke="#000" stroke-width="0.6"/>
<text x="343.60" y="337.16" font-size="7.4" text-anchor="start" fill="#000">Luecken et al.'s lymphangioleiomyomatosis</text>
<polygon points="496.50,202.31 494.60,205.54 498.40,205.54" fill="none" stroke="#000" stroke-width="0.6"/>
<polygon points="496.50,206.49 494.60,203.26 498.40,203.26" fill="none" stroke="#000" stroke-width="0.6"/>
<text x="510.50" y="207.06" font-size="7.4" text-anchor="start" fill="#000">Luecken et al.'s non−specific interstitial pneumonia</text>
<rect x="494.88" y="221.34" width="3.23" height="3.23" fill="none" stroke="#000" stroke-width="0.6"/>
<path d="M494.88 222.95H498.12M496.50 221.34V224.57" fill="none" stroke="#000" stroke-width="0.6"/>
<text x="510.50" y="225.61" font-size="7.4" text-anchor="start" fill="#000">Luecken et al.'s pleomorphic carcinoma</text>
<circle cx="496.50" cy="241.50" r="1.80" fill="none" stroke="#000" stroke-width="0.6"/>
<path d="M495.24 240.24L497.76 242.76M495.24 242.76L497.76 240.24" fill="none" stroke="#000" stroke-width="0.6"/>
<text x="510.50" y="244.16" font-size="7.4" text-anchor="start" fill="#000">Luecken et al.'s pneumonia</text>
<rect x="494.88" y="258.44" width="3.23" height="3.23" fill="none" stroke="#000" stroke-width="0.6"/>
<path d="M494.88 261.67L496.50 258.44L498.12 261.67" fill="none" stroke="#000" stroke-width="0.6"/>
<text x="510.50" y="262.71" font-size="7.4" text-anchor="start" fill="#000">Luecken et al.'s pulmonary fibrosis</text>
<rect x="494.79" y="276.89" width="3.42" height="3.42" fill="#000"/>
<text x="510.50" y="281.26" font-size="7.4" text-anchor="start" fill="#000">Luecken et al.'s pulmonary sarcoidosis</text>
<circle cx="496.50" cy="297.15" r="1.99" fill="#000"/>
<text x="510.50" y="299.81" font-size="7.4" text-anchor="start" fill="#000">Luecken et al.'s squamous cell lung carcinoma</text>
<polygon points="496.50,313.61 494.20,317.27 498.80,317.27" fill="#000"/>
<text x="510.50" y="318.36" font-size="7.4" text-anchor="start" fill="#000">Zhang et al.'s COVID−19</text>
<circle cx="496.50" cy="334.25" r="1.80" fill="none" stroke="#000" stroke-width="0.6"/>
<text x="510.50" y="336.91" font-size="7.4" text-anchor="start" fill="#000">Boroni et al.'s lung cancer</text>
<text x="0.20" y="388.60" font-size="12.3" text-anchor="start" fill="#000" font-weight="bold">d</text>
<rect x="38.60" y="381.50" width="91.90" height="13.80" fill="#efefef" stroke="#d9d9d9" stroke-width="0.6"/>
<text x="84.55" y="391.16" font-size="7.4" text-anchor="middle" fill="#1a1a1a">IoU</text>
<line x1="38.60" y1="395.40" x2="38.60" y2="510.50" stroke="#333" stroke-width="0.9"/>
<line x1="38.20" y1="510.10" x2="130.50" y2="510.10" stroke="#333" stroke-width="0.9"/>
<line x1="36.50" y1="417.40" x2="38.60" y2="417.40" stroke="#333" stroke-width="0.7"/>
<text x="35.90" y="420.06" font-size="7.4" text-anchor="end" fill="#4d4d4d">0.9</text>
<line x1="36.50" y1="442.70" x2="38.60" y2="442.70" stroke="#333" stroke-width="0.7"/>
<text x="35.90" y="445.36" font-size="7.4" text-anchor="end" fill="#4d4d4d">0.8</text>
<line x1="36.50" y1="467.90" x2="38.60" y2="467.90" stroke="#333" stroke-width="0.7"/>
<text x="35.90" y="470.56" font-size="7.4" text-anchor="end" fill="#4d4d4d">0.7</text>
<line x1="36.50" y1="493.20" x2="38.60" y2="493.20" stroke="#333" stroke-width="0.7"/>
<text x="35.90" y="495.86" font-size="7.4" text-anchor="end" fill="#4d4d4d">0.6</text>
<line x1="63.00" y1="510.10" x2="63.00" y2="512.20" stroke="#333" stroke-width="0.7"/>
<line x1="105.30" y1="510.10" x2="105.30" y2="512.20" stroke="#333" stroke-width="0.7"/>
<text x="67.30" y="517.70" font-size="7.4" text-anchor="end" fill="#4d4d4d" transform="rotate(-45 67.30 517.70)">w/ reference</text>
<text x="109.60" y="517.70" font-size="7.4" text-anchor="end" fill="#4d4d4d" transform="rotate(-45 109.60 517.70)">w/o reference</text>
<path d="M63.00 409.70V407.30H105.30V409.70" fill="none" stroke="#000" stroke-width="0.8"/>
<text x="84.15" y="406.36" font-size="7.4" text-anchor="middle" fill="#000">0.0156</text>
<line x1="63.00" y1="482.70" x2="105.30" y2="501.90" stroke="#e6cadb" stroke-width="1.4"/>
<line x1="63.00" y1="412.00" x2="105.30" y2="487.10" stroke="#f4a800" stroke-width="1.4"/>
<line x1="63.00" y1="434.20" x2="105.30" y2="463.90" stroke="#d1235e" stroke-width="1.4"/>
<line x1="63.00" y1="423.90" x2="105.30" y2="479.00" stroke="#d262a8" stroke-width="1.4"/>
<line x1="63.00" y1="419.00" x2="105.30" y2="505.70" stroke="#5b2b6d" stroke-width="1.4"/>
<line x1="63.00" y1="435.20" x2="105.30" y2="500.70" stroke="#3694b6" stroke-width="1.4"/>
<circle cx="63.00" cy="412.00" r="2.3" fill="#f4a800"/>
<circle cx="105.30" cy="487.10" r="2.3" fill="#f4a800"/>
<circle cx="63.00" cy="434.20" r="2.3" fill="#d1235e"/>
<circle cx="105.30" cy="463.90" r="2.3" fill="#d1235e"/>
<circle cx="63.00" cy="423.90" r="2.3" fill="#d262a8"/>
<circle cx="105.30" cy="479.00" r="2.3" fill="#d262a8"/>
<circle cx="63.00" cy="419.00" r="2.3" fill="#5b2b6d"/>
<circle cx="105.30" cy="505.70" r="2.3" fill="#5b2b6d"/>
<circle cx="63.00" cy="435.20" r="2.3" fill="#3694b6"/>
<circle cx="105.30" cy="500.70" r="2.3" fill="#3694b6"/>
<circle cx="63.00" cy="482.70" r="2.3" fill="#e6cadb"/>
<circle cx="105.30" cy="501.90" r="2.3" fill="#e6cadb"/>
<rect x="146.60" y="381.50" width="91.90" height="13.80" fill="#efefef" stroke="#d9d9d9" stroke-width="0.6"/>
<text x="192.55" y="391.16" font-size="7.4" text-anchor="middle" fill="#1a1a1a">precision</text>
<line x1="146.60" y1="395.40" x2="146.60" y2="510.50" stroke="#333" stroke-width="0.9"/>
<line x1="146.20" y1="510.10" x2="238.50" y2="510.10" stroke="#333" stroke-width="0.9"/>
<line x1="144.50" y1="402.60" x2="146.60" y2="402.60" stroke="#333" stroke-width="0.7"/>
<text x="143.90" y="405.26" font-size="7.4" text-anchor="end" fill="#4d4d4d">1.0</text>
<line x1="144.50" y1="432.50" x2="146.60" y2="432.50" stroke="#333" stroke-width="0.7"/>
<text x="143.90" y="435.16" font-size="7.4" text-anchor="end" fill="#4d4d4d">0.9</text>
<line x1="144.50" y1="461.80" x2="146.60" y2="461.80" stroke="#333" stroke-width="0.7"/>
<text x="143.90" y="464.46" font-size="7.4" text-anchor="end" fill="#4d4d4d">0.8</text>
<line x1="144.50" y1="491.50" x2="146.60" y2="491.50" stroke="#333" stroke-width="0.7"/>
<text x="143.90" y="494.16" font-size="7.4" text-anchor="end" fill="#4d4d4d">0.7</text>
<line x1="171.30" y1="510.10" x2="171.30" y2="512.20" stroke="#333" stroke-width="0.7"/>
<line x1="213.50" y1="510.10" x2="213.50" y2="512.20" stroke="#333" stroke-width="0.7"/>
<text x="175.60" y="517.70" font-size="7.4" text-anchor="end" fill="#4d4d4d" transform="rotate(-45 175.60 517.70)">w/ reference</text>
<text x="217.80" y="517.70" font-size="7.4" text-anchor="end" fill="#4d4d4d" transform="rotate(-45 217.80 517.70)">w/o reference</text>
<path d="M171.30 409.30V406.90H213.50V409.30" fill="none" stroke="#000" stroke-width="0.8"/>
<text x="192.40" y="405.96" font-size="7.4" text-anchor="middle" fill="#000">0.281</text>
<line x1="171.30" y1="498.40" x2="213.50" y2="505.40" stroke="#e6cadb" stroke-width="1.4"/>
<line x1="171.30" y1="415.80" x2="213.50" y2="437.40" stroke="#f4a800" stroke-width="1.4"/>
<line x1="171.30" y1="424.90" x2="213.50" y2="425.50" stroke="#d1235e" stroke-width="1.4"/>
<line x1="171.30" y1="421.60" x2="213.50" y2="421.60" stroke="#d262a8" stroke-width="1.4"/>
<line x1="171.30" y1="429.60" x2="213.50" y2="430.50" stroke="#5b2b6d" stroke-width="1.4"/>
<line x1="171.30" y1="438.00" x2="213.50" y2="411.90" stroke="#3694b6" stroke-width="1.4"/>
<circle cx="171.30" cy="415.80" r="2.3" fill="#f4a800"/>
<circle cx="213.50" cy="437.40" r="2.3" fill="#f4a800"/>
<circle cx="171.30" cy="424.90" r="2.3" fill="#d1235e"/>
<circle cx="213.50" cy="425.50" r="2.3" fill="#d1235e"/>
<circle cx="171.30" cy="421.60" r="2.3" fill="#d262a8"/>
<circle cx="213.50" cy="421.60" r="2.3" fill="#d262a8"/>
<circle cx="171.30" cy="429.60" r="2.3" fill="#5b2b6d"/>
<circle cx="213.50" cy="430.50" r="2.3" fill="#5b2b6d"/>
<circle cx="171.30" cy="438.00" r="2.3" fill="#3694b6"/>
<circle cx="213.50" cy="411.90" r="2.3" fill="#3694b6"/>
<circle cx="171.30" cy="498.40" r="2.3" fill="#e6cadb"/>
<circle cx="213.50" cy="505.40" r="2.3" fill="#e6cadb"/>
<rect x="255.10" y="381.50" width="91.40" height="13.80" fill="#efefef" stroke="#d9d9d9" stroke-width="0.6"/>
<text x="300.80" y="391.16" font-size="7.4" text-anchor="middle" fill="#1a1a1a">recall</text>
<line x1="255.10" y1="395.40" x2="255.10" y2="510.50" stroke="#333" stroke-width="0.9"/>
<line x1="254.70" y1="510.10" x2="346.50" y2="510.10" stroke="#333" stroke-width="0.9"/>
<line x1="253.00" y1="407.40" x2="255.10" y2="407.40" stroke="#333" stroke-width="0.7"/>
<text x="252.40" y="410.06" font-size="7.4" text-anchor="end" fill="#4d4d4d">1.0</text>
<line x1="253.00" y1="430.70" x2="255.10" y2="430.70" stroke="#333" stroke-width="0.7"/>
<text x="252.40" y="433.36" font-size="7.4" text-anchor="end" fill="#4d4d4d">0.9</text>
<line x1="253.00" y1="454.30" x2="255.10" y2="454.30" stroke="#333" stroke-width="0.7"/>
<text x="252.40" y="456.96" font-size="7.4" text-anchor="end" fill="#4d4d4d">0.8</text>
<line x1="253.00" y1="477.40" x2="255.10" y2="477.40" stroke="#333" stroke-width="0.7"/>
<text x="252.40" y="480.06" font-size="7.4" text-anchor="end" fill="#4d4d4d">0.7</text>
<line x1="253.00" y1="500.40" x2="255.10" y2="500.40" stroke="#333" stroke-width="0.7"/>
<text x="252.40" y="503.06" font-size="7.4" text-anchor="end" fill="#4d4d4d">0.6</text>
<line x1="280.10" y1="510.10" x2="280.10" y2="512.20" stroke="#333" stroke-width="0.7"/>
<line x1="322.00" y1="510.10" x2="322.00" y2="512.20" stroke="#333" stroke-width="0.7"/>
<text x="284.40" y="517.70" font-size="7.4" text-anchor="end" fill="#4d4d4d" transform="rotate(-45 284.40 517.70)">w/ reference</text>
<text x="326.30" y="517.70" font-size="7.4" text-anchor="end" fill="#4d4d4d" transform="rotate(-45 326.30 517.70)">w/o reference</text>
<path d="M280.10 409.80V407.40H322.00V409.80" fill="none" stroke="#000" stroke-width="0.8"/>
<text x="301.05" y="406.46" font-size="7.4" text-anchor="middle" fill="#000">0.0156</text>
<line x1="280.10" y1="424.40" x2="322.00" y2="451.60" stroke="#e6cadb" stroke-width="1.4"/>
<line x1="280.10" y1="416.30" x2="322.00" y2="481.50" stroke="#f4a800" stroke-width="1.4"/>
<line x1="280.10" y1="432.10" x2="322.00" y2="463.20" stroke="#d1235e" stroke-width="1.4"/>
<line x1="280.10" y1="427.00" x2="322.00" y2="479.60" stroke="#d262a8" stroke-width="1.4"/>
<line x1="280.10" y1="411.90" x2="322.00" y2="503.70" stroke="#5b2b6d" stroke-width="1.4"/>
<line x1="280.10" y1="421.90" x2="322.00" y2="505.40" stroke="#3694b6" stroke-width="1.4"/>
<circle cx="280.10" cy="416.30" r="2.3" fill="#f4a800"/>
<circle cx="322.00" cy="481.50" r="2.3" fill="#f4a800"/>
<circle cx="280.10" cy="432.10" r="2.3" fill="#d1235e"/>
<circle cx="322.00" cy="463.20" r="2.3" fill="#d1235e"/>
<circle cx="280.10" cy="427.00" r="2.3" fill="#d262a8"/>
<circle cx="322.00" cy="479.60" r="2.3" fill="#d262a8"/>
<circle cx="280.10" cy="411.90" r="2.3" fill="#5b2b6d"/>
<circle cx="322.00" cy="503.70" r="2.3" fill="#5b2b6d"/>
<circle cx="280.10" cy="421.90" r="2.3" fill="#3694b6"/>
<circle cx="322.00" cy="505.40" r="2.3" fill="#3694b6"/>
<circle cx="280.10" cy="424.40" r="2.3" fill="#e6cadb"/>
<circle cx="322.00" cy="451.60" r="2.3" fill="#e6cadb"/>
<text x="356.50" y="390.66" font-size="7.4" text-anchor="start" fill="#000" font-weight="bold">subset</text>
<line x1="358.40" y1="404.90" x2="376.10" y2="404.90" stroke="#f4a800" stroke-width="1.4"/>
<circle cx="367.20" cy="404.90" r="2.3" fill="#f4a800"/>
<text x="380.80" y="407.56" font-size="7.4" text-anchor="start" fill="#000">endothelial (5 types)</text>
<line x1="358.40" y1="426.22" x2="376.10" y2="426.22" stroke="#d1235e" stroke-width="1.4"/>
<circle cx="367.20" cy="426.22" r="2.3" fill="#d1235e"/>
<text x="380.80" y="428.88" font-size="7.4" text-anchor="start" fill="#000">epithelial (7 types)</text>
<line x1="358.40" y1="447.54" x2="376.10" y2="447.54" stroke="#d262a8" stroke-width="1.4"/>
<circle cx="367.20" cy="447.54" r="2.3" fill="#d262a8"/>
<text x="380.80" y="450.20" font-size="7.4" text-anchor="start" fill="#000">fibroblast (4 types)</text>
<line x1="358.40" y1="468.86" x2="376.10" y2="468.86" stroke="#e6cadb" stroke-width="1.4"/>
<circle cx="367.20" cy="468.86" r="2.3" fill="#e6cadb"/>
<text x="380.80" y="471.52" font-size="7.4" text-anchor="start" fill="#000">lymphoid (13 types)</text>
<line x1="358.40" y1="490.18" x2="376.10" y2="490.18" stroke="#5b2b6d" stroke-width="1.4"/>
<circle cx="367.20" cy="490.18" r="2.3" fill="#5b2b6d"/>
<text x="380.80" y="492.84" font-size="7.4" text-anchor="start" fill="#000">muscle (2 types)</text>
<line x1="358.40" y1="511.50" x2="376.10" y2="511.50" stroke="#3694b6" stroke-width="1.4"/>
<circle cx="367.20" cy="511.50" r="2.3" fill="#3694b6"/>
<text x="380.80" y="514.16" font-size="7.4" text-anchor="start" fill="#000">myeloid (7 types)</text>
<text x="357.80" y="538.76" font-size="7.4" text-anchor="start" fill="#000">(Fig c,d: with lung reference)</text>
<text x="458.90" y="388.70" font-size="12.3" text-anchor="start" fill="#000" font-weight="bold">e</text>
<line x1="487.90" y1="406.90" x2="675.00" y2="406.90" stroke="#ebebeb" stroke-width="0.5"/>
<line x1="487.90" y1="410.36" x2="675.00" y2="410.36" stroke="#ebebeb" stroke-width="0.5"/>
<line x1="487.90" y1="413.82" x2="675.00" y2="413.82" stroke="#ebebeb" stroke-width="0.5"/>
<line x1="487.90" y1="417.29" x2="675.00" y2="417.29" stroke="#ebebeb" stroke-width="0.5"/>
<line x1="487.90" y1="420.75" x2="675.00" y2="420.75" stroke="#ebebeb" stroke-width="0.5"/>
<line x1="487.90" y1="424.21" x2="675.00" y2="424.21" stroke="#ebebeb" stroke-width="0.5"/>
<line x1="487.90" y1="427.68" x2="675.00" y2="427.68" stroke="#ebebeb" stroke-width="0.5"/>
<line x1="487.90" y1="431.14" x2="675.00" y2="431.14" stroke="#ebebeb" stroke-width="0.5"/>
<line x1="487.90" y1="434.60" x2="675.00" y2="434.60" stroke="#ebebeb" stroke-width="0.5"/>
<line x1="488.20" y1="406.90" x2="488.20" y2="434.60" stroke="#e6e6e6" stroke-width="0.6"/>
<line x1="533.70" y1="406.90" x2="533.70" y2="434.60" stroke="#e6e6e6" stroke-width="0.6"/>
<line x1="579.20" y1="406.90" x2="579.20" y2="434.60" stroke="#e6e6e6" stroke-width="0.6"/>
<line x1="624.70" y1="406.90" x2="624.70" y2="434.60" stroke="#e6e6e6" stroke-width="0.6"/>
<line x1="670.00" y1="406.90" x2="670.00" y2="434.60" stroke="#e6e6e6" stroke-width="0.6"/>
<line x1="511.00" y1="406.90" x2="511.00" y2="434.60" stroke="#f0f0f0" stroke-width="0.5"/>
<line x1="556.50" y1="406.90" x2="556.50" y2="434.60" stroke="#f0f0f0" stroke-width="0.5"/>
<line x1="602.00" y1="406.90" x2="602.00" y2="434.60" stroke="#f0f0f0" stroke-width="0.5"/>
<line x1="647.30" y1="406.90" x2="647.30" y2="434.60" stroke="#f0f0f0" stroke-width="0.5"/>
<text x="581.95" y="399.96" font-size="7.4" text-anchor="middle" fill="#1a1a1a" font-style="italic">ICAM3-ITGB2</text>
<text x="488.20" y="446.96" font-size="7.4" text-anchor="middle" fill="#4d4d4d">0</text>
<text x="533.70" y="446.96" font-size="7.4" text-anchor="middle" fill="#4d4d4d">4</text>
<text x="579.20" y="446.96" font-size="7.4" text-anchor="middle" fill="#4d4d4d">8</text>
<text x="624.70" y="446.96" font-size="7.4" text-anchor="middle" fill="#4d4d4d">12</text>
<text x="670.00" y="446.96" font-size="7.4" text-anchor="middle" fill="#4d4d4d">16</text>
<polygon points="493.50,420.80 493.50,419.21 493.80,418.93 494.10,418.61 494.40,418.25 494.70,417.85 495.00,417.41 495.30,416.94 495.60,416.43 495.90,415.89 496.20,415.32 496.50,414.72 496.80,414.11 497.10,413.49 497.40,412.86 497.70,412.24 498.00,411.64 498.30,411.06 498.60,410.51 498.90,410.01 499.20,409.57 499.50,409.18 499.80,408.87 500.10,408.63 500.40,408.48 500.70,408.40 501.00,408.42 501.30,408.52 501.60,408.70 501.90,408.97 502.20,409.30 502.50,409.71 502.80,410.17 503.10,410.69 503.40,411.25 503.70,411.84 504.00,412.45 504.30,413.07 504.60,413.70 504.90,414.32 505.20,414.92 505.50,415.51 505.80,416.07 506.10,416.60 506.40,417.10 506.70,417.56 507.00,417.99 507.30,418.37 507.60,418.72 507.90,419.03 508.20,419.30 508.50,419.54 508.80,419.75 509.10,419.93 509.40,420.09 509.70,420.22 510.00,420.33 510.30,420.42 510.60,420.50 510.90,420.56 511.20,420.61 511.50,420.65 511.50,420.80" fill="#f8766d" fill-opacity="0.5"/>
<polygon points="489.80,420.80 489.80,420.52 490.04,420.44 490.27,420.36 490.51,420.25 490.75,420.12 490.98,419.97 491.22,419.80 491.46,419.59 491.69,419.36 491.93,419.09 492.17,418.78 492.40,418.43 492.64,418.05 492.88,417.63 493.11,417.17 493.35,416.67 493.59,416.13 493.82,415.56 494.06,414.97 494.30,414.36 494.53,413.73 494.77,413.09 495.01,412.46 495.24,411.84 495.48,411.24 495.72,410.68 495.95,410.15 496.19,409.69 496.43,409.28 496.66,408.94 496.90,408.68 497.14,408.50 497.37,408.41 497.61,408.41 497.85,408.49 498.08,408.67 498.32,408.92 498.56,409.25 498.79,409.65 499.03,410.12 499.27,410.64 499.50,411.20 499.74,411.80 499.98,412.41 500.21,413.05 500.45,413.68 500.69,414.31 500.92,414.93 501.16,415.52 501.40,416.09 501.63,416.63 501.87,417.13 502.11,417.60 502.34,418.02 502.58,418.41 502.82,418.76 503.05,419.07 503.29,419.34 503.53,419.58 503.76,419.78 504.00,419.96 504.00,420.80" fill="#00ba38" fill-opacity="0.5"/>
<defs><linearGradient id="g1" x1="0" x2="1" y1="0" y2="0"><stop offset="0" stop-color="#619cff" stop-opacity="0"/><stop offset="0.051" stop-color="#619cff" stop-opacity="1"/><stop offset="0.939" stop-color="#619cff" stop-opacity="1"/><stop offset="1" stop-color="#619cff" stop-opacity="0"/></linearGradient></defs>
<rect x="490.10" y="421.70" width="19.70" height="12.20" fill="url(#g1)"/>
<line x1="499.90" y1="420.60" x2="499.90" y2="433.90" stroke="#000" stroke-width="1.2" stroke-dasharray="1.6,3.9"/>
<line x1="487.90" y1="420.80" x2="675.00" y2="420.80" stroke="#111" stroke-width="1.25"/>
<line x1="512.50" y1="414.20" x2="512.50" y2="420.80" stroke="#f8766d" stroke-width="1.0"/>
<circle cx="512.50" cy="414.20" r="2.5" fill="#f8766d"/>
<line x1="674.00" y1="414.40" x2="674.00" y2="420.80" stroke="#00ba38" stroke-width="1.0"/>
<circle cx="674.00" cy="414.40" r="2.5" fill="#00ba38"/>
<line x1="593.30" y1="410.20" x2="593.30" y2="431.20" stroke="#619cff" stroke-width="1.0"/>
<circle cx="593.30" cy="410.20" r="2.5" fill="#619cff"/>
<circle cx="593.30" cy="431.20" r="2.5" fill="#619cff"/>
<circle cx="496.90" cy="420.80" r="2.6" fill="#000"/>
<circle cx="501.00" cy="420.80" r="2.6" fill="#000"/>
<line x1="487.90" y1="467.80" x2="675.00" y2="467.80" stroke="#ebebeb" stroke-width="0.5"/>
<line x1="487.90" y1="471.28" x2="675.00" y2="471.28" stroke="#ebebeb" stroke-width="0.5"/>
<line x1="487.90" y1="474.75" x2="675.00" y2="474.75" stroke="#ebebeb" stroke-width="0.5"/>
<line x1="487.90" y1="478.23" x2="675.00" y2="478.23" stroke="#ebebeb" stroke-width="0.5"/>
<line x1="487.90" y1="481.70" x2="675.00" y2="481.70" stroke="#ebebeb" stroke-width="0.5"/>
<line x1="487.90" y1="485.18" x2="675.00" y2="485.18" stroke="#ebebeb" stroke-width="0.5"/>
<line x1="487.90" y1="488.65" x2="675.00" y2="488.65" stroke="#ebebeb" stroke-width="0.5"/>
<line x1="487.90" y1="492.12" x2="675.00" y2="492.12" stroke="#ebebeb" stroke-width="0.5"/>
<line x1="487.90" y1="495.60" x2="675.00" y2="495.60" stroke="#ebebeb" stroke-width="0.5"/>
<line x1="491.00" y1="467.80" x2="491.00" y2="495.60" stroke="#e6e6e6" stroke-width="0.6"/>
<line x1="530.30" y1="467.80" x2="530.30" y2="495.60" stroke="#e6e6e6" stroke-width="0.6"/>
<line x1="569.50" y1="467.80" x2="569.50" y2="495.60" stroke="#e6e6e6" stroke-width="0.6"/>
<line x1="608.40" y1="467.80" x2="608.40" y2="495.60" stroke="#e6e6e6" stroke-width="0.6"/>
<line x1="647.60" y1="467.80" x2="647.60" y2="495.60" stroke="#e6e6e6" stroke-width="0.6"/>
<line x1="510.60" y1="467.80" x2="510.60" y2="495.60" stroke="#f0f0f0" stroke-width="0.5"/>
<line x1="549.90" y1="467.80" x2="549.90" y2="495.60" stroke="#f0f0f0" stroke-width="0.5"/>
<line x1="589.00" y1="467.80" x2="589.00" y2="495.60" stroke="#f0f0f0" stroke-width="0.5"/>
<line x1="628.00" y1="467.80" x2="628.00" y2="495.60" stroke="#f0f0f0" stroke-width="0.5"/>
<line x1="667.20" y1="467.80" x2="667.20" y2="495.60" stroke="#f0f0f0" stroke-width="0.5"/>
<text x="581.95" y="460.36" font-size="7.4" text-anchor="middle" fill="#1a1a1a" font-style="italic">ICAM3-ITGAL</text>
<text x="491.00" y="507.66" font-size="7.4" text-anchor="middle" fill="#4d4d4d">0</text>
<text x="530.30" y="507.66" font-size="7.4" text-anchor="middle" fill="#4d4d4d">1</text>
<text x="569.50" y="507.66" font-size="7.4" text-anchor="middle" fill="#4d4d4d">2</text>
<text x="608.40" y="507.66" font-size="7.4" text-anchor="middle" fill="#4d4d4d">3</text>
<text x="647.60" y="507.66" font-size="7.4" text-anchor="middle" fill="#4d4d4d">4</text>
<polygon points="500.00,481.60 500.00,481.11 501.22,480.99 502.43,480.85 503.65,480.68 504.87,480.47 506.08,480.24 507.30,479.97 508.52,479.66 509.73,479.30 510.95,478.91 512.17,478.47 513.38,477.99 514.60,477.46 515.82,476.90 517.03,476.30 518.25,475.67 519.47,475.02 520.68,474.35 521.90,473.68 523.12,473.01 524.33,472.36 525.55,471.73 526.77,471.15 527.98,470.61 529.20,470.14 530.42,469.73 531.63,469.41 532.85,469.18 534.07,469.04 535.28,469.00 536.50,469.06 537.72,469.21 538.93,469.45 540.15,469.79 541.37,470.20 542.58,470.68 543.80,471.22 545.02,471.82 546.23,472.45 547.45,473.10 548.67,473.77 549.88,474.45 551.10,475.11 552.32,475.76 553.53,476.39 554.75,476.98 555.97,477.54 557.18,478.06 558.40,478.53 559.62,478.97 560.83,479.36 562.05,479.70 563.27,480.01 564.48,480.27 565.70,480.50 566.92,480.70 568.13,480.87 569.35,481.01 570.57,481.13 571.78,481.22 573.00,481.30 573.00,481.60" fill="#f8766d" fill-opacity="0.5"/>
<polygon points="492.30,481.60 492.30,481.10 492.50,480.98 492.71,480.84 492.91,480.68 493.11,480.49 493.32,480.26 493.52,480.01 493.72,479.71 493.93,479.38 494.13,479.01 494.33,478.60 494.54,478.15 494.74,477.66 494.94,477.13 495.15,476.57 495.35,475.98 495.55,475.36 495.76,474.73 495.96,474.09 496.16,473.44 496.37,472.80 496.57,472.18 496.77,471.59 496.98,471.03 497.18,470.53 497.38,470.08 497.59,469.70 497.79,469.40 497.99,469.18 498.20,469.05 498.40,469.00 498.60,469.05 498.81,469.18 499.01,469.40 499.21,469.70 499.42,470.08 499.62,470.53 499.82,471.03 500.03,471.59 500.23,472.18 500.43,472.80 500.64,473.44 500.84,474.09 501.04,474.73 501.25,475.36 501.45,475.98 501.65,476.57 501.86,477.13 502.06,477.66 502.26,478.15 502.47,478.60 502.67,479.01 502.87,479.38 503.08,479.71 503.28,480.01 503.48,480.26 503.69,480.49 503.89,480.68 504.09,480.84 504.30,480.98 504.50,481.10 504.50,481.60" fill="#00ba38" fill-opacity="0.5"/>
<defs><linearGradient id="g2" x1="0" x2="1" y1="0" y2="0"><stop offset="0" stop-color="#619cff" stop-opacity="0"/><stop offset="0.117" stop-color="#619cff" stop-opacity="1"/><stop offset="0.864" stop-color="#619cff" stop-opacity="1"/><stop offset="1" stop-color="#619cff" stop-opacity="0"/></linearGradient></defs>
<rect x="493.30" y="482.50" width="51.50" height="12.40" fill="url(#g2)"/>
<line x1="518.50" y1="481.40" x2="518.50" y2="494.90" stroke="#000" stroke-width="1.2" stroke-dasharray="1.6,3.9"/>
<line x1="487.90" y1="481.60" x2="675.00" y2="481.60" stroke="#111" stroke-width="1.25"/>
<line x1="575.00" y1="475.10" x2="575.00" y2="481.60" stroke="#f8766d" stroke-width="1.0"/>
<circle cx="575.00" cy="475.10" r="2.5" fill="#f8766d"/>
<line x1="671.20" y1="475.20" x2="671.20" y2="481.60" stroke="#00ba38" stroke-width="1.0"/>
<circle cx="671.20" cy="475.20" r="2.5" fill="#00ba38"/>
<line x1="622.90" y1="470.80" x2="622.90" y2="492.40" stroke="#619cff" stroke-width="1.0"/>
<circle cx="622.90" cy="470.80" r="2.5" fill="#619cff"/>
<circle cx="622.90" cy="492.40" r="2.5" fill="#619cff"/>
<circle cx="498.40" cy="481.60" r="2.6" fill="#000"/>
<circle cx="535.50" cy="481.60" r="2.6" fill="#000"/>
<line x1="487.90" y1="528.80" x2="675.00" y2="528.80" stroke="#ebebeb" stroke-width="0.5"/>
<line x1="487.90" y1="532.25" x2="675.00" y2="532.25" stroke="#ebebeb" stroke-width="0.5"/>
<line x1="487.90" y1="535.70" x2="675.00" y2="535.70" stroke="#ebebeb" stroke-width="0.5"/>
<line x1="487.90" y1="539.15" x2="675.00" y2="539.15" stroke="#ebebeb" stroke-width="0.5"/>
<line x1="487.90" y1="542.60" x2="675.00" y2="542.60" stroke="#ebebeb" stroke-width="0.5"/>
<line x1="487.90" y1="546.05" x2="675.00" y2="546.05" stroke="#ebebeb" stroke-width="0.5"/>
<line x1="487.90" y1="549.50" x2="675.00" y2="549.50" stroke="#ebebeb" stroke-width="0.5"/>
<line x1="487.90" y1="552.95" x2="675.00" y2="552.95" stroke="#ebebeb" stroke-width="0.5"/>
<line x1="487.90" y1="556.40" x2="675.00" y2="556.40" stroke="#ebebeb" stroke-width="0.5"/>
<line x1="487.90" y1="528.80" x2="487.90" y2="556.40" stroke="#e6e6e6" stroke-width="0.6"/>
<line x1="525.30" y1="528.80" x2="525.30" y2="556.40" stroke="#e6e6e6" stroke-width="0.6"/>
<line x1="562.70" y1="528.80" x2="562.70" y2="556.40" stroke="#e6e6e6" stroke-width="0.6"/>
<line x1="600.10" y1="528.80" x2="600.10" y2="556.40" stroke="#e6e6e6" stroke-width="0.6"/>
<line x1="637.50" y1="528.80" x2="637.50" y2="556.40" stroke="#e6e6e6" stroke-width="0.6"/>
<line x1="675.00" y1="528.80" x2="675.00" y2="556.40" stroke="#e6e6e6" stroke-width="0.6"/>
<line x1="506.60" y1="528.80" x2="506.60" y2="556.40" stroke="#f0f0f0" stroke-width="0.5"/>
<line x1="544.00" y1="528.80" x2="544.00" y2="556.40" stroke="#f0f0f0" stroke-width="0.5"/>
<line x1="581.40" y1="528.80" x2="581.40" y2="556.40" stroke="#f0f0f0" stroke-width="0.5"/>
<line x1="618.80" y1="528.80" x2="618.80" y2="556.40" stroke="#f0f0f0" stroke-width="0.5"/>
<line x1="656.20" y1="528.80" x2="656.20" y2="556.40" stroke="#f0f0f0" stroke-width="0.5"/>
<text x="581.95" y="521.16" font-size="7.4" text-anchor="middle" fill="#1a1a1a" font-style="italic">ANXA1-CXCR3</text>
<text x="487.90" y="567.96" font-size="7.4" text-anchor="middle" fill="#4d4d4d">0</text>
<text x="525.30" y="567.96" font-size="7.4" text-anchor="middle" fill="#4d4d4d">10</text>
<text x="562.70" y="567.96" font-size="7.4" text-anchor="middle" fill="#4d4d4d">20</text>
<text x="600.10" y="567.96" font-size="7.4" text-anchor="middle" fill="#4d4d4d">30</text>
<text x="637.50" y="567.96" font-size="7.4" text-anchor="middle" fill="#4d4d4d">40</text>
<text x="675.00" y="567.96" font-size="7.4" text-anchor="middle" fill="#4d4d4d">50</text>
<polygon points="498.00,542.40 498.00,542.37 500.83,542.35 503.67,542.33 506.50,542.29 509.33,542.25 512.17,542.19 515.00,542.11 517.83,542.00 520.67,541.86 523.50,541.68 526.33,541.45 529.17,541.17 532.00,540.83 534.83,540.42 537.67,539.94 540.50,539.39 543.33,538.77 546.17,538.07 549.00,537.32 551.83,536.51 554.67,535.67 557.50,534.82 560.33,533.98 563.17,533.18 566.00,532.44 568.83,531.78 571.67,531.25 574.50,530.84 577.33,530.59 580.17,530.50 583.00,530.58 585.83,530.81 588.67,531.20 591.50,531.73 594.33,532.37 597.17,533.10 600.00,533.90 602.83,534.74 605.67,535.59 608.50,536.43 611.33,537.24 614.17,538.00 617.00,538.70 619.83,539.34 622.67,539.89 625.50,540.38 628.33,540.79 631.17,541.14 634.00,541.43 636.83,541.66 639.67,541.84 642.50,541.99 645.33,542.10 648.17,542.18 651.00,542.24 653.83,542.29 656.67,542.32 659.50,542.35 662.33,542.37 665.17,542.38 668.00,542.39 668.00,542.40" fill="#f8766d" fill-opacity="0.5"/>
<polygon points="487.70,542.40 487.70,535.15 487.73,534.59 487.76,534.02 487.80,533.45 487.83,532.88 487.86,532.31 487.89,531.75 487.92,531.21 487.95,530.68 487.99,530.18 488.02,529.71 488.05,529.27 488.08,528.87 488.11,528.52 488.14,528.21 488.18,527.96 488.21,527.76 488.24,527.61 488.27,527.53 488.30,527.50 488.33,527.53 488.37,527.63 488.40,527.78 488.43,527.98 488.46,528.24 488.49,528.56 488.52,528.91 488.56,529.32 488.59,529.76 488.62,530.23 488.65,530.74 488.68,531.27 488.71,531.81 488.75,532.37 488.78,532.94 488.81,533.51 488.84,534.08 488.87,534.65 488.90,535.21 488.94,535.75 488.97,536.27 489.00,536.78 489.03,537.27 489.06,537.73 489.09,538.17 489.12,538.58 489.16,538.97 489.19,539.33 489.22,539.66 489.25,539.96 489.28,540.25 489.31,540.50 489.35,540.73 489.38,540.94 489.41,541.13 489.44,541.30 489.47,541.45 489.50,541.58 489.54,541.70 489.57,541.80 489.60,541.89 489.60,542.40" fill="#00ba38" fill-opacity="0.5"/>
<defs><linearGradient id="g3" x1="0" x2="1" y1="0" y2="0"><stop offset="0" stop-color="#619cff" stop-opacity="0"/><stop offset="0.054" stop-color="#619cff" stop-opacity="1"/><stop offset="0.844" stop-color="#619cff" stop-opacity="1"/><stop offset="1" stop-color="#619cff" stop-opacity="0"/></linearGradient></defs>
<rect x="496.50" y="543.30" width="83.30" height="12.60" fill="url(#g3)"/>
<line x1="535.30" y1="542.20" x2="535.30" y2="555.90" stroke="#000" stroke-width="1.2" stroke-dasharray="1.6,3.9"/>
<line x1="487.90" y1="542.40" x2="675.00" y2="542.40" stroke="#111" stroke-width="1.25"/>
<line x1="496.50" y1="536.50" x2="496.50" y2="542.40" stroke="#00ba38" stroke-width="1.0"/>
<circle cx="496.50" cy="536.50" r="2.5" fill="#00ba38"/>
<line x1="510.00" y1="536.50" x2="510.00" y2="542.40" stroke="#f8766d" stroke-width="1.0"/>
<circle cx="510.00" cy="536.50" r="2.5" fill="#f8766d"/>
<line x1="503.00" y1="532.00" x2="503.00" y2="553.40" stroke="#619cff" stroke-width="1.0"/>
<circle cx="503.00" cy="532.00" r="2.5" fill="#619cff"/>
<circle cx="503.00" cy="553.40" r="2.5" fill="#619cff"/>
<circle cx="488.40" cy="542.40" r="2.6" fill="#000"/>
<circle cx="581.80" cy="542.40" r="2.6" fill="#000"/>
<line x1="487.90" y1="589.50" x2="675.00" y2="589.50" stroke="#ebebeb" stroke-width="0.5"/>
<line x1="487.90" y1="592.96" x2="675.00" y2="592.96" stroke="#ebebeb" stroke-width="0.5"/>
<line x1="487.90" y1="596.42" x2="675.00" y2="596.42" stroke="#ebebeb" stroke-width="0.5"/>
<line x1="487.90" y1="599.89" x2="675.00" y2="599.89" stroke="#ebebeb" stroke-width="0.5"/>
<line x1="487.90" y1="603.35" x2="675.00" y2="603.35" stroke="#ebebeb" stroke-width="0.5"/>
<line x1="487.90" y1="606.81" x2="675.00" y2="606.81" stroke="#ebebeb" stroke-width="0.5"/>
<line x1="487.90" y1="610.28" x2="675.00" y2="610.28" stroke="#ebebeb" stroke-width="0.5"/>
<line x1="487.90" y1="613.74" x2="675.00" y2="613.74" stroke="#ebebeb" stroke-width="0.5"/>
<line x1="487.90" y1="617.20" x2="675.00" y2="617.20" stroke="#ebebeb" stroke-width="0.5"/>
<line x1="487.90" y1="589.50" x2="487.90" y2="617.20" stroke="#e6e6e6" stroke-width="0.6"/>
<line x1="525.30" y1="589.50" x2="525.30" y2="617.20" stroke="#e6e6e6" stroke-width="0.6"/>
<line x1="562.70" y1="589.50" x2="562.70" y2="617.20" stroke="#e6e6e6" stroke-width="0.6"/>
<line x1="600.10" y1="589.50" x2="600.10" y2="617.20" stroke="#e6e6e6" stroke-width="0.6"/>
<line x1="637.50" y1="589.50" x2="637.50" y2="617.20" stroke="#e6e6e6" stroke-width="0.6"/>
<line x1="675.00" y1="589.50" x2="675.00" y2="617.20" stroke="#e6e6e6" stroke-width="0.6"/>
<line x1="506.60" y1="589.50" x2="506.60" y2="617.20" stroke="#f0f0f0" stroke-width="0.5"/>
<line x1="544.00" y1="589.50" x2="544.00" y2="617.20" stroke="#f0f0f0" stroke-width="0.5"/>
<line x1="581.40" y1="589.50" x2="581.40" y2="617.20" stroke="#f0f0f0" stroke-width="0.5"/>
<line x1="618.80" y1="589.50" x2="618.80" y2="617.20" stroke="#f0f0f0" stroke-width="0.5"/>
<line x1="656.20" y1="589.50" x2="656.20" y2="617.20" stroke="#f0f0f0" stroke-width="0.5"/>
<text x="581.95" y="582.06" font-size="7.4" text-anchor="middle" fill="#1a1a1a" font-style="italic">THBS1-ITGB1</text>
<text x="487.90" y="628.76" font-size="7.4" text-anchor="middle" fill="#4d4d4d">0</text>
<text x="525.30" y="628.76" font-size="7.4" text-anchor="middle" fill="#4d4d4d">10</text>
<text x="562.70" y="628.76" font-size="7.4" text-anchor="middle" fill="#4d4d4d">20</text>
<text x="600.10" y="628.76" font-size="7.4" text-anchor="middle" fill="#4d4d4d">30</text>
<text x="637.50" y="628.76" font-size="7.4" text-anchor="middle" fill="#4d4d4d">40</text>
<text x="675.00" y="628.76" font-size="7.4" text-anchor="middle" fill="#4d4d4d">50</text>
<polygon points="494.00,603.40 494.00,603.37 494.98,603.36 495.97,603.35 496.95,603.33 497.93,603.31 498.92,603.28 499.90,603.24 500.88,603.19 501.87,603.13 502.85,603.05 503.83,602.95 504.82,602.83 505.80,602.69 506.78,602.51 507.77,602.31 508.75,602.06 509.73,601.77 510.72,601.45 511.70,601.07 512.68,600.65 513.67,600.18 514.65,599.66 515.63,599.09 516.62,598.48 517.60,597.84 518.58,597.17 519.57,596.47 520.55,595.77 521.53,595.07 522.52,594.38 523.50,593.73 524.48,593.11 525.47,592.55 526.45,592.07 527.43,591.66 528.42,591.34 529.40,591.13 530.38,591.02 531.37,591.01 532.35,591.12 533.33,591.33 534.32,591.64 535.30,592.04 536.28,592.53 537.27,593.08 538.25,593.69 539.23,594.35 540.22,595.04 541.20,595.74 542.18,596.44 543.17,597.13 544.15,597.81 545.13,598.45 546.12,599.06 547.10,599.63 548.08,600.15 549.07,600.62 550.05,601.05 551.03,601.43 552.02,601.76 553.00,602.05 553.00,603.40" fill="#f8766d" fill-opacity="0.5"/>
<polygon points="500.00,603.40 500.00,602.85 502.92,602.72 505.83,602.57 508.75,602.39 511.67,602.19 514.58,601.95 517.50,601.68 520.42,601.38 523.33,601.03 526.25,600.65 529.17,600.23 532.08,599.77 535.00,599.27 537.92,598.73 540.83,598.16 543.75,597.56 546.67,596.93 549.58,596.29 552.50,595.64 555.42,594.99 558.33,594.35 561.25,593.73 564.17,593.13 567.08,592.57 570.00,592.06 572.92,591.62 575.83,591.23 578.75,590.92 581.67,590.70 584.58,590.55 587.50,590.50 590.42,590.54 593.33,590.66 596.25,590.87 599.17,591.16 602.08,591.53 605.00,591.97 607.92,592.46 610.83,593.01 613.75,593.60 616.67,594.22 619.58,594.86 622.50,595.51 625.42,596.16 628.33,596.80 631.25,597.43 634.17,598.04 637.08,598.61 640.00,599.16 642.92,599.67 645.83,600.14 648.75,600.57 651.67,600.96 654.58,601.31 657.50,601.62 660.42,601.90 663.33,602.14 666.25,602.35 669.17,602.54 672.08,602.69 675.00,602.82 675.00,603.40" fill="#00ba38" fill-opacity="0.5"/>
<defs><linearGradient id="g4" x1="0" x2="1" y1="0" y2="0"><stop offset="0" stop-color="#619cff" stop-opacity="0"/><stop offset="0.156" stop-color="#619cff" stop-opacity="1"/><stop offset="0.865" stop-color="#619cff" stop-opacity="1"/><stop offset="1" stop-color="#619cff" stop-opacity="0"/></linearGradient></defs>
<rect x="488.00" y="604.30" width="141.20" height="12.60" fill="url(#g4)"/>
<line x1="560.70" y1="603.20" x2="560.70" y2="616.90" stroke="#000" stroke-width="1.2" stroke-dasharray="1.6,3.9"/>
<line x1="487.90" y1="603.40" x2="675.00" y2="603.40" stroke="#111" stroke-width="1.25"/>
<line x1="499.80" y1="596.40" x2="499.80" y2="603.40" stroke="#f8766d" stroke-width="1.0"/>
<circle cx="499.80" cy="596.40" r="2.5" fill="#f8766d"/>
<line x1="511.40" y1="596.40" x2="511.40" y2="603.40" stroke="#00ba38" stroke-width="1.0"/>
<circle cx="511.40" cy="596.40" r="2.5" fill="#00ba38"/>
<line x1="505.50" y1="592.60" x2="505.50" y2="613.50" stroke="#619cff" stroke-width="1.0"/>
<circle cx="505.50" cy="592.60" r="2.5" fill="#619cff"/>
<circle cx="505.50" cy="613.50" r="2.5" fill="#619cff"/>
<circle cx="531.20" cy="603.40" r="2.6" fill="#000"/>
<circle cx="588.60" cy="603.40" r="2.6" fill="#000"/>
<line x1="487.90" y1="650.90" x2="675.00" y2="650.90" stroke="#ebebeb" stroke-width="0.5"/>
<line x1="487.90" y1="654.36" x2="675.00" y2="654.36" stroke="#ebebeb" stroke-width="0.5"/>
<line x1="487.90" y1="657.83" x2="675.00" y2="657.83" stroke="#ebebeb" stroke-width="0.5"/>
<line x1="487.90" y1="661.29" x2="675.00" y2="661.29" stroke="#ebebeb" stroke-width="0.5"/>
<line x1="487.90" y1="664.75" x2="675.00" y2="664.75" stroke="#ebebeb" stroke-width="0.5"/>
<line x1="487.90" y1="668.21" x2="675.00" y2="668.21" stroke="#ebebeb" stroke-width="0.5"/>
<line x1="487.90" y1="671.67" x2="675.00" y2="671.67" stroke="#ebebeb" stroke-width="0.5"/>
<line x1="487.90" y1="675.14" x2="675.00" y2="675.14" stroke="#ebebeb" stroke-width="0.5"/>
<line x1="487.90" y1="678.60" x2="675.00" y2="678.60" stroke="#ebebeb" stroke-width="0.5"/>
<line x1="487.90" y1="650.90" x2="487.90" y2="678.60" stroke="#e6e6e6" stroke-width="0.6"/>
<line x1="525.30" y1="650.90" x2="525.30" y2="678.60" stroke="#e6e6e6" stroke-width="0.6"/>
<line x1="562.70" y1="650.90" x2="562.70" y2="678.60" stroke="#e6e6e6" stroke-width="0.6"/>
<line x1="600.10" y1="650.90" x2="600.10" y2="678.60" stroke="#e6e6e6" stroke-width="0.6"/>
<line x1="637.50" y1="650.90" x2="637.50" y2="678.60" stroke="#e6e6e6" stroke-width="0.6"/>
<line x1="675.00" y1="650.90" x2="675.00" y2="678.60" stroke="#e6e6e6" stroke-width="0.6"/>
<line x1="506.60" y1="650.90" x2="506.60" y2="678.60" stroke="#f0f0f0" stroke-width="0.5"/>
<line x1="544.00" y1="650.90" x2="544.00" y2="678.60" stroke="#f0f0f0" stroke-width="0.5"/>
<line x1="581.40" y1="650.90" x2="581.40" y2="678.60" stroke="#f0f0f0" stroke-width="0.5"/>
<line x1="618.80" y1="650.90" x2="618.80" y2="678.60" stroke="#f0f0f0" stroke-width="0.5"/>
<line x1="656.20" y1="650.90" x2="656.20" y2="678.60" stroke="#f0f0f0" stroke-width="0.5"/>
<text x="581.95" y="642.26" font-size="7.4" text-anchor="middle" fill="#1a1a1a" font-style="italic">ITGB1-CD46</text>
<text x="487.90" y="690.66" font-size="7.4" text-anchor="middle" fill="#4d4d4d">0</text>
<text x="525.30" y="690.66" font-size="7.4" text-anchor="middle" fill="#4d4d4d">10</text>
<text x="562.70" y="690.66" font-size="7.4" text-anchor="middle" fill="#4d4d4d">20</text>
<text x="600.10" y="690.66" font-size="7.4" text-anchor="middle" fill="#4d4d4d">30</text>
<text x="637.50" y="690.66" font-size="7.4" text-anchor="middle" fill="#4d4d4d">40</text>
<text x="675.00" y="690.66" font-size="7.4" text-anchor="middle" fill="#4d4d4d">50</text>
<polygon points="522.00,664.20 522.00,663.73 524.55,663.60 527.10,663.43 529.65,663.23 532.20,662.98 534.75,662.70 537.30,662.36 539.85,661.96 542.40,661.51 544.95,661.01 547.50,660.44 550.05,659.82 552.60,659.15 555.15,658.43 557.70,657.67 560.25,656.89 562.80,656.10 565.35,655.31 567.90,654.54 570.45,653.81 573.00,653.13 575.55,652.53 578.10,652.01 580.65,651.60 583.20,651.31 585.75,651.14 588.30,651.10 590.85,651.19 593.40,651.41 595.95,651.75 598.50,652.20 601.05,652.75 603.60,653.39 606.15,654.09 608.70,654.84 611.25,655.62 613.80,656.41 616.35,657.20 618.90,657.97 621.45,658.72 624.00,659.42 626.55,660.07 629.10,660.67 631.65,661.21 634.20,661.70 636.75,662.12 639.30,662.50 641.85,662.81 644.40,663.08 646.95,663.31 649.50,663.50 652.05,663.65 654.60,663.78 657.15,663.88 659.70,663.95 662.25,664.02 664.80,664.06 667.35,664.10 669.90,664.13 672.45,664.15 675.00,664.16 675.00,664.20" fill="#f8766d" fill-opacity="0.5"/>
<polygon points="497.00,664.20 497.00,663.81 498.18,663.71 499.37,663.58 500.55,663.43 501.73,663.25 502.92,663.03 504.10,662.78 505.28,662.49 506.47,662.15 507.65,661.77 508.83,661.34 510.02,660.86 511.20,660.33 512.38,659.76 513.57,659.14 514.75,658.49 515.93,657.80 517.12,657.10 518.30,656.38 519.48,655.65 520.67,654.94 521.85,654.25 523.03,653.60 524.22,653.00 525.40,652.47 526.58,652.00 527.77,651.63 528.95,651.35 530.13,651.17 531.32,651.10 532.50,651.14 533.68,651.28 534.87,651.53 536.05,651.88 537.23,652.31 538.42,652.83 539.60,653.41 540.78,654.05 541.97,654.73 543.15,655.43 544.33,656.15 545.52,656.87 546.70,657.59 547.88,658.28 549.07,658.94 550.25,659.57 551.43,660.16 552.62,660.70 553.80,661.19 554.98,661.64 556.17,662.03 557.35,662.39 558.53,662.69 559.72,662.96 560.90,663.18 562.08,663.38 563.27,663.54 564.45,663.67 565.63,663.78 566.82,663.87 568.00,663.95 568.00,664.20" fill="#00ba38" fill-opacity="0.5"/>
<defs><linearGradient id="g5" x1="0" x2="1" y1="0" y2="0"><stop offset="0" stop-color="#619cff" stop-opacity="0"/><stop offset="0.147" stop-color="#619cff" stop-opacity="1"/><stop offset="0.860" stop-color="#619cff" stop-opacity="1"/><stop offset="1" stop-color="#619cff" stop-opacity="0"/></linearGradient></defs>
<rect x="487.40" y="665.10" width="142.80" height="12.40" fill="url(#g5)"/>
<line x1="560.70" y1="664.00" x2="560.70" y2="677.50" stroke="#000" stroke-width="1.2" stroke-dasharray="1.6,3.9"/>
<line x1="487.90" y1="664.20" x2="675.00" y2="664.20" stroke="#111" stroke-width="1.25"/>
<line x1="495.60" y1="658.00" x2="495.60" y2="664.20" stroke="#00ba38" stroke-width="1.0"/>
<circle cx="495.60" cy="658.00" r="2.5" fill="#00ba38"/>
<line x1="524.90" y1="658.00" x2="524.90" y2="664.20" stroke="#8e8c3c" stroke-width="1.0"/>
<circle cx="524.90" cy="658.00" r="2.5" fill="#8e8c3c"/>
<line x1="510.50" y1="653.50" x2="510.50" y2="675.30" stroke="#619cff" stroke-width="1.0"/>
<circle cx="510.50" cy="653.50" r="2.5" fill="#619cff"/>
<circle cx="510.50" cy="675.30" r="2.5" fill="#619cff"/>
<circle cx="531.20" cy="664.20" r="2.6" fill="#000"/>
<circle cx="588.30" cy="664.20" r="2.6" fill="#000"/>
<rect x="675.30" y="405.00" width="9.70" height="20.00" fill="#fff"/>
<polygon points="416.90,583.40 416.90,583.24 417.23,583.12 417.57,582.93 417.90,582.65 418.23,582.23 418.57,581.64 418.90,580.87 419.23,579.89 419.57,578.72 419.90,577.39 420.23,575.98 420.57,574.58 420.90,573.31 421.23,572.29 421.57,571.63 421.90,571.40 422.23,571.63 422.57,572.29 422.90,573.31 423.23,574.58 423.57,575.98 423.90,577.39 424.23,578.72 424.57,579.89 424.90,580.87 425.23,581.64 425.57,582.23 425.90,582.65 426.23,582.93 426.57,583.12 426.90,583.24 426.90,583.40" fill="#f8766d" fill-opacity="0.5"/>
<text x="431.00" y="580.06" font-size="7.4" text-anchor="start" fill="#000">null for lig.</text>
<polygon points="416.90,603.30 416.90,603.14 417.23,603.02 417.57,602.83 417.90,602.55 418.23,602.13 418.57,601.54 418.90,600.77 419.23,599.79 419.57,598.62 419.90,597.29 420.23,595.88 420.57,594.48 420.90,593.21 421.23,592.19 421.57,591.53 421.90,591.30 422.23,591.53 422.57,592.19 422.90,593.21 423.23,594.48 423.57,595.88 423.90,597.29 424.23,598.62 424.57,599.79 424.90,600.77 425.23,601.54 425.57,602.13 425.90,602.55 426.23,602.83 426.57,603.02 426.90,603.14 426.90,603.30" fill="#00ba38" fill-opacity="0.5"/>
<text x="431.00" y="599.86" font-size="7.4" text-anchor="start" fill="#000">null for rec.</text>
<rect x="417.50" y="611.30" width="8.80" height="12.30" fill="#619cff"/>
<text x="431.00" y="620.16" font-size="7.4" text-anchor="start" fill="#000">CS thres. range</text>
<circle cx="421.90" cy="636.30" r="2.5" fill="#f8766d"/>
<text x="431.00" y="639.26" font-size="7.4" text-anchor="start" fill="#000">lig. summary</text>
<circle cx="421.90" cy="656.20" r="2.5" fill="#00ba38"/>
<text x="431.00" y="659.06" font-size="7.4" text-anchor="start" fill="#000">rec. summary</text>
<circle cx="421.90" cy="676.30" r="2.5" fill="#619cff"/>
<text x="431.00" y="679.26" font-size="7.4" text-anchor="start" fill="#000">CS statistic</text>
<text x="678.70" y="713.46" font-size="7.4" text-anchor="end" fill="#000">(Fig e,f: with breast reference)</text>
<text x="-0.10" y="567.70" font-size="12.3" text-anchor="start" fill="#000" font-weight="bold">f</text>
<g>
<path d="M39.00 569.0L39.00 575.85Q39.00 599.00 31.80 621.00L31.80 621.00Q24.60 643.00 24.60 666.15L24.60 679.0L25.68 679.0L25.68 666.15Q25.68 643.00 32.90 621.00L32.90 621.00Q40.11 599.00 40.11 575.85L40.11 569.0Z" fill="#f2e38e" stroke="#f2e38e" stroke-width="0.35" opacity="0.7"/>
<path d="M40.31 569.0L40.31 576.44Q40.31 599.00 45.31 621.00L45.31 621.00Q50.30 643.00 50.30 665.56L50.30 679.0L50.31 679.0L50.31 665.56Q50.31 643.00 45.32 621.00L45.32 621.00Q40.32 599.00 40.32 576.44L40.32 569.0Z" fill="#f2e38e" stroke="#f2e38e" stroke-width="0.35" opacity="0.7"/>
<path d="M40.52 569.0L40.52 573.00Q40.52 599.00 59.81 616.43L69.91 625.57Q89.20 643.00 89.20 669.00L89.20 679.0L89.32 679.0L89.32 669.00Q89.32 643.00 70.04 625.56L59.94 616.44Q40.65 599.00 40.65 573.00L40.65 569.0Z" fill="#f2e38e" stroke="#f2e38e" stroke-width="0.35" opacity="0.7"/>
<path d="M40.85 569.0L40.85 573.00Q40.85 599.00 63.95 610.94L102.90 631.06Q126.00 643.00 126.00 669.00L126.00 679.0L126.06 679.0L126.06 669.00Q126.06 643.00 102.97 631.06L64.02 610.94Q40.92 599.00 40.92 573.00L40.92 569.0Z" fill="#f2e38e" stroke="#f2e38e" stroke-width="0.35" opacity="0.7"/>
<path d="M41.12 569.0L41.12 573.00Q41.12 599.00 64.78 609.79L113.94 632.21Q137.60 643.00 137.60 669.00L137.60 679.0L137.68 679.0L137.68 669.00Q137.68 643.00 114.02 632.21L64.87 609.79Q41.21 599.00 41.21 573.00L41.21 569.0Z" fill="#f2e38e" stroke="#f2e38e" stroke-width="0.35" opacity="0.7"/>
<path d="M41.41 569.0L41.41 573.00Q41.41 599.00 65.65 608.40L130.66 633.60Q154.90 643.00 154.90 669.00L154.90 679.0L155.99 679.0L155.99 669.00Q155.99 643.00 131.75 633.60L66.77 608.40Q42.53 599.00 42.53 573.00L42.53 569.0Z" fill="#f2e38e" stroke="#f2e38e" stroke-width="0.35" opacity="0.7"/>
<path d="M42.72 569.0L42.72 573.00Q42.72 599.00 67.63 606.44L165.17 635.56Q190.09 643.00 190.09 669.00L190.09 679.0L190.09 679.0L190.09 669.00Q190.09 643.00 165.17 635.56L67.63 606.44Q42.72 599.00 42.72 573.00L42.72 569.0Z" fill="#f2e38e" stroke="#f2e38e" stroke-width="0.35" opacity="0.7"/>
<path d="M42.91 569.0L42.91 573.00Q42.91 599.00 68.03 605.71L182.38 636.29Q207.50 643.00 207.50 669.00L207.50 679.0L208.99 679.0L208.99 669.00Q208.99 643.00 183.87 636.28L69.55 605.72Q44.44 599.00 44.44 573.00L44.44 569.0Z" fill="#f2e38e" stroke="#f2e38e" stroke-width="0.35" opacity="0.7"/>
<path d="M44.64 569.0L44.64 573.00Q44.64 599.00 70.20 603.75L256.04 638.25Q281.60 643.00 281.60 669.00L281.60 679.0L281.63 679.0L281.63 669.00Q281.63 643.00 256.07 638.25L70.24 603.75Q44.68 599.00 44.68 573.00L44.68 569.0Z" fill="#f2e38e" stroke="#f2e38e" stroke-width="0.35" opacity="0.7"/>
<path d="M44.88 569.0L44.88 573.00Q44.88 599.00 70.51 603.37L277.37 638.63Q303.00 643.00 303.00 669.00L303.00 679.0L304.29 679.0L304.29 669.00Q304.29 643.00 278.66 638.63L71.83 603.37Q46.20 599.00 46.20 573.00L46.20 569.0Z" fill="#f2e38e" stroke="#f2e38e" stroke-width="0.35" opacity="0.7"/>
<path d="M52.70 569.0L52.70 573.24Q52.70 599.00 39.29 621.00L39.29 621.00Q25.88 643.00 25.88 668.76L25.88 679.0L27.43 679.0L27.43 668.77Q27.43 643.00 40.86 621.00L40.86 621.00Q54.29 599.00 54.29 573.23L54.29 569.0Z" fill="#b3b192" stroke="#b3b192" stroke-width="0.35" opacity="0.7"/>
<path d="M54.49 569.0L54.49 576.32Q54.49 599.00 59.99 621.00L59.99 621.00Q65.50 643.00 65.50 665.68L65.50 679.0L68.64 679.0L68.64 665.67Q68.64 643.00 63.17 621.00L63.17 621.00Q57.70 599.00 57.70 576.33L57.70 569.0Z" fill="#b3b192" stroke="#b3b192" stroke-width="0.35" opacity="0.7"/>
<path d="M57.90 569.0L57.90 573.00Q57.90 599.00 77.78 615.76L90.22 626.24Q110.10 643.00 110.10 669.00L110.10 679.0L110.58 679.0L110.58 669.00Q110.58 643.00 90.71 626.24L78.28 615.76Q58.40 599.00 58.40 573.00L58.40 569.0Z" fill="#b3b192" stroke="#b3b192" stroke-width="0.35" opacity="0.7"/>
<path d="M58.60 569.0L58.60 573.00Q58.60 599.00 80.40 613.17L104.47 628.83Q126.26 643.00 126.26 669.00L126.26 679.0L126.35 679.0L126.35 669.00Q126.35 643.00 104.55 628.82L80.49 613.18Q58.70 599.00 58.70 573.00L58.70 569.0Z" fill="#b3b192" stroke="#b3b192" stroke-width="0.35" opacity="0.7"/>
<path d="M58.90 569.0L58.90 573.00Q58.90 599.00 81.61 611.65L115.17 630.35Q137.88 643.00 137.88 669.00L137.88 679.0L138.09 679.0L138.09 669.00Q138.09 643.00 115.38 630.35L81.83 611.65Q59.12 599.00 59.12 573.00L59.12 569.0Z" fill="#b3b192" stroke="#b3b192" stroke-width="0.35" opacity="0.7"/>
<path d="M59.32 569.0L59.32 573.00Q59.32 599.00 82.99 609.75L132.51 632.25Q156.19 643.00 156.19 669.00L156.19 679.0L161.84 679.0L161.84 669.00Q161.84 643.00 138.17 632.24L88.77 609.76Q65.10 599.00 65.10 573.00L65.10 569.0Z" fill="#b3b192" stroke="#b3b192" stroke-width="0.35" opacity="0.7"/>
<path d="M65.30 569.0L65.30 573.00Q65.30 599.00 89.83 607.63L165.75 634.37Q190.28 643.00 190.28 669.00L190.28 679.0L192.62 679.0L192.62 669.00Q192.62 643.00 168.10 634.36L92.23 607.64Q67.71 599.00 67.71 573.00L67.71 569.0Z" fill="#b3b192" stroke="#b3b192" stroke-width="0.35" opacity="0.7"/>
<path d="M67.91 569.0L67.91 573.00Q67.91 599.00 92.73 606.73L184.37 635.27Q209.19 643.00 209.19 669.00L209.19 679.0L211.87 679.0L211.87 669.00Q211.87 643.00 187.05 635.27L95.48 606.73Q70.65 599.00 70.65 573.00L70.65 569.0Z" fill="#b3b192" stroke="#b3b192" stroke-width="0.35" opacity="0.7"/>
<path d="M70.85 569.0L70.85 573.00Q70.85 599.00 95.97 605.73L209.99 636.27Q235.10 643.00 235.10 669.00L235.10 679.0L237.74 679.0L237.74 669.00Q237.74 643.00 212.63 636.27L98.67 605.73Q73.56 599.00 73.56 573.00L73.56 569.0Z" fill="#b3b192" stroke="#b3b192" stroke-width="0.35" opacity="0.7"/>
<path d="M73.76 569.0L73.76 573.00Q73.76 599.00 99.20 604.38L256.40 637.62Q281.83 643.00 281.83 669.00L281.83 679.0L283.02 679.0L283.02 669.00Q283.02 643.00 257.58 637.62L100.41 604.38Q74.97 599.00 74.97 573.00L74.97 569.0Z" fill="#b3b192" stroke="#b3b192" stroke-width="0.35" opacity="0.7"/>
<path d="M75.17 569.0L75.17 573.00Q75.17 599.00 100.71 603.90L278.96 638.10Q304.49 643.00 304.49 669.00L304.49 679.0L306.41 679.0L306.41 669.00Q306.41 643.00 280.88 638.10L102.67 603.90Q77.14 599.00 77.14 573.00L77.14 569.0Z" fill="#b3b192" stroke="#b3b192" stroke-width="0.35" opacity="0.7"/>
<path d="M77.34 569.0L77.34 573.00Q77.34 599.00 102.97 603.36L310.47 638.64Q336.10 643.00 336.10 669.00L336.10 679.0L336.45 679.0L336.45 669.00Q336.45 643.00 310.82 638.64L103.33 603.36Q77.70 599.00 77.70 573.00L77.70 569.0Z" fill="#b3b192" stroke="#b3b192" stroke-width="0.35" opacity="0.7"/>
<path d="M84.00 569.0L84.00 573.00Q84.00 599.00 63.50 615.00L48.12 627.00Q27.63 643.00 27.63 669.00L27.63 679.0L28.29 679.0L28.29 669.00Q28.29 643.00 48.79 627.01L64.19 614.99Q84.68 599.00 84.68 573.00L84.68 569.0Z" fill="#d6dfb0" stroke="#d6dfb0" stroke-width="0.35" opacity="0.7"/>
<path d="M84.88 569.0L84.88 573.00Q84.88 599.00 68.88 619.49L66.52 622.51Q50.51 643.00 50.51 669.00L50.51 679.0L53.86 679.0L53.86 669.00Q53.86 643.00 69.89 622.53L72.29 619.47Q88.32 599.00 88.32 573.00L88.32 569.0Z" fill="#d6dfb0" stroke="#d6dfb0" stroke-width="0.35" opacity="0.7"/>
<path d="M88.52 569.0L88.52 574.90Q88.52 599.00 78.68 621.00L78.68 621.00Q68.84 643.00 68.84 667.10L68.84 679.0L73.60 679.0L73.60 667.12Q73.60 643.00 83.49 621.00L83.49 621.00Q93.39 599.00 93.39 574.88L93.39 569.0Z" fill="#d6dfb0" stroke="#d6dfb0" stroke-width="0.35" opacity="0.7"/>
<path d="M93.59 569.0L93.59 576.91Q93.59 599.00 91.56 621.00L91.56 621.00Q89.52 643.00 89.52 665.09L89.52 679.0L97.23 679.0L97.23 665.10Q97.23 643.00 99.35 621.00L99.35 621.00Q101.47 599.00 101.47 576.90L101.47 569.0Z" fill="#d6dfb0" stroke="#d6dfb0" stroke-width="0.35" opacity="0.7"/>
<path d="M101.67 569.0L101.67 576.53Q101.67 599.00 106.23 621.00L106.23 621.00Q110.78 643.00 110.78 665.47L110.78 679.0L114.31 679.0L114.31 665.46Q114.31 643.00 109.80 621.00L109.80 621.00Q105.29 599.00 105.29 576.54L105.29 569.0Z" fill="#d6dfb0" stroke="#d6dfb0" stroke-width="0.35" opacity="0.7"/>
<path d="M105.49 569.0L105.49 574.61Q105.49 599.00 116.02 621.00L116.02 621.00Q126.55 643.00 126.55 667.39L126.55 679.0L129.66 679.0L129.66 667.38Q129.66 643.00 119.16 621.00L119.16 621.00Q108.67 599.00 108.67 574.62L108.67 569.0Z" fill="#d6dfb0" stroke="#d6dfb0" stroke-width="0.35" opacity="0.7"/>
<path d="M108.87 569.0L108.87 573.00Q108.87 599.00 123.32 620.61L123.84 621.39Q138.29 643.00 138.29 669.00L138.29 679.0L144.73 679.0L144.73 669.00Q144.73 643.00 130.33 621.35L129.86 620.65Q115.46 599.00 115.46 573.00L115.46 569.0Z" fill="#d6dfb0" stroke="#d6dfb0" stroke-width="0.35" opacity="0.7"/>
<path d="M115.66 569.0L115.66 573.00Q115.66 599.00 134.52 616.89L143.18 625.11Q162.04 643.00 162.04 669.00L162.04 679.0L167.26 679.0L167.26 669.00Q167.26 643.00 148.43 625.08L139.85 616.92Q121.01 599.00 121.01 573.00L121.01 569.0Z" fill="#d6dfb0" stroke="#d6dfb0" stroke-width="0.35" opacity="0.7"/>
<path d="M121.21 569.0L121.21 573.00Q121.21 599.00 143.36 612.61L170.67 629.39Q192.82 643.00 192.82 669.00L192.82 679.0L194.51 679.0L194.51 669.00Q194.51 643.00 172.36 629.38L145.09 612.62Q122.94 599.00 122.94 573.00L122.94 569.0Z" fill="#d6dfb0" stroke="#d6dfb0" stroke-width="0.35" opacity="0.7"/>
<path d="M123.14 569.0L123.14 573.00Q123.14 599.00 146.44 610.53L188.77 631.47Q212.07 643.00 212.07 669.00L212.07 679.0L214.12 679.0L214.12 669.00Q214.12 643.00 190.82 631.47L148.53 610.53Q125.23 599.00 125.23 573.00L125.23 569.0Z" fill="#d6dfb0" stroke="#d6dfb0" stroke-width="0.35" opacity="0.7"/>
<path d="M125.43 569.0L125.43 573.00Q125.43 599.00 149.65 608.47L213.73 633.53Q237.94 643.00 237.94 669.00L237.94 679.0L238.80 679.0L238.80 669.00Q238.80 643.00 214.58 633.53L150.52 608.47Q126.31 599.00 126.31 573.00L126.31 569.0Z" fill="#d6dfb0" stroke="#d6dfb0" stroke-width="0.35" opacity="0.7"/>
<path d="M126.51 569.0L126.51 573.00Q126.51 599.00 151.13 607.35L231.58 634.65Q256.20 643.00 256.20 669.00L256.20 679.0L263.88 679.0L263.88 669.00Q263.88 643.00 239.27 634.64L158.99 607.36Q134.37 599.00 134.37 573.00L134.37 569.0Z" fill="#d6dfb0" stroke="#d6dfb0" stroke-width="0.35" opacity="0.7"/>
<path d="M134.57 569.0L134.57 573.00Q134.57 599.00 159.50 606.38L258.29 635.62Q283.22 643.00 283.22 669.00L283.22 679.0L284.76 679.0L284.76 669.00Q284.76 643.00 259.83 635.62L161.09 606.38Q136.16 599.00 136.16 573.00L136.16 569.0Z" fill="#d6dfb0" stroke="#d6dfb0" stroke-width="0.35" opacity="0.7"/>
<path d="M136.36 569.0L136.36 573.00Q136.36 599.00 161.53 605.51L281.44 636.49Q306.61 643.00 306.61 669.00L306.61 679.0L311.65 679.0L311.65 669.00Q311.65 643.00 286.48 636.49L166.69 605.51Q141.51 599.00 141.51 573.00L141.51 569.0Z" fill="#d6dfb0" stroke="#d6dfb0" stroke-width="0.35" opacity="0.7"/>
<path d="M141.71 569.0L141.71 573.00Q141.71 599.00 167.08 604.72L311.29 637.28Q336.65 643.00 336.65 669.00L336.65 679.0L347.35 679.0L347.35 669.00Q347.35 643.00 321.99 637.27L178.02 604.73Q152.66 599.00 152.66 573.00L152.66 569.0Z" fill="#d6dfb0" stroke="#d6dfb0" stroke-width="0.35" opacity="0.7"/>
<path d="M152.86 569.0L152.86 573.00Q152.86 599.00 178.31 604.32L337.85 637.68Q363.30 643.00 363.30 669.00L363.30 679.0L369.35 679.0L369.35 669.00Q369.35 643.00 343.90 637.68L184.50 604.32Q159.06 599.00 159.06 573.00L159.06 569.0Z" fill="#d6dfb0" stroke="#d6dfb0" stroke-width="0.35" opacity="0.7"/>
<path d="M159.26 569.0L159.26 573.00Q159.26 599.00 184.80 603.86L364.96 638.14Q390.50 643.00 390.50 669.00L390.50 679.0L392.98 679.0L392.98 669.00Q392.98 643.00 367.44 638.14L187.34 603.86Q161.80 599.00 161.80 573.00L161.80 569.0Z" fill="#d6dfb0" stroke="#d6dfb0" stroke-width="0.35" opacity="0.7"/>
<path d="M167.40 569.0L167.40 573.00Q167.40 599.00 143.16 608.41L78.30 633.59Q54.06 643.00 54.06 669.00L54.06 679.0L54.06 679.0L54.06 669.00Q54.06 643.00 78.30 633.59L143.16 608.41Q167.40 599.00 167.40 573.00L167.40 569.0Z" fill="#78b06b" stroke="#78b06b" stroke-width="0.35" opacity="0.7"/>
<path d="M167.60 569.0L167.60 573.00Q167.60 599.00 144.06 610.04L97.33 631.96Q73.80 643.00 73.80 669.00L73.80 679.0L74.00 679.0L74.00 669.00Q74.00 643.00 97.54 631.96L144.27 610.04Q167.81 599.00 167.81 573.00L167.81 569.0Z" fill="#78b06b" stroke="#78b06b" stroke-width="0.35" opacity="0.7"/>
<path d="M168.01 569.0L168.01 573.00Q168.01 599.00 145.95 612.75L119.49 629.25Q97.43 643.00 97.43 669.00L97.43 679.0L98.08 679.0L98.08 669.00Q98.08 643.00 120.14 629.25L146.61 612.75Q168.68 599.00 168.68 573.00L168.68 569.0Z" fill="#78b06b" stroke="#78b06b" stroke-width="0.35" opacity="0.7"/>
<path d="M168.88 569.0L168.88 573.00Q168.88 599.00 151.63 618.45L147.11 623.55Q129.86 643.00 129.86 669.00L129.86 679.0L129.97 679.0L129.97 669.00Q129.97 643.00 147.22 623.55L151.74 618.45Q168.99 599.00 168.99 573.00L168.99 569.0Z" fill="#78b06b" stroke="#78b06b" stroke-width="0.35" opacity="0.7"/>
<path d="M169.19 569.0L169.19 576.98Q169.19 599.00 168.33 621.00L168.33 621.00Q167.46 643.00 167.46 665.02L167.46 679.0L167.75 679.0L167.75 665.02Q167.75 643.00 168.62 621.00L168.62 621.00Q169.49 599.00 169.49 576.98L169.49 569.0Z" fill="#78b06b" stroke="#78b06b" stroke-width="0.35" opacity="0.7"/>
<path d="M169.69 569.0L169.69 573.00Q169.69 599.00 188.20 617.25L195.80 624.75Q214.32 643.00 214.32 669.00L214.32 679.0L214.51 679.0L214.51 669.00Q214.51 643.00 196.00 624.74L188.40 617.26Q169.89 599.00 169.89 573.00L169.89 569.0Z" fill="#78b06b" stroke="#78b06b" stroke-width="0.35" opacity="0.7"/>
<path d="M170.09 569.0L170.09 573.00Q170.09 599.00 193.64 610.02L240.54 631.98Q264.08 643.00 264.08 669.00L264.08 679.0L265.24 679.0L265.24 669.00Q265.24 643.00 241.69 631.97L194.82 610.03Q171.27 599.00 171.27 573.00L171.27 569.0Z" fill="#78b06b" stroke="#78b06b" stroke-width="0.35" opacity="0.7"/>
<path d="M171.47 569.0L171.47 573.00Q171.47 599.00 196.70 605.30L322.32 636.70Q347.55 643.00 347.55 669.00L347.55 679.0L348.80 679.0L348.80 669.00Q348.80 643.00 323.57 636.70L197.98 605.30Q172.76 599.00 172.76 573.00L172.76 569.0Z" fill="#78b06b" stroke="#78b06b" stroke-width="0.35" opacity="0.7"/>
<path d="M172.96 569.0L172.96 573.00Q172.96 599.00 198.33 604.68L344.18 637.32Q369.55 643.00 369.55 669.00L369.55 679.0L369.91 679.0L369.91 669.00Q369.91 643.00 344.54 637.32L198.70 604.68Q173.33 599.00 173.33 573.00L173.33 569.0Z" fill="#78b06b" stroke="#78b06b" stroke-width="0.35" opacity="0.7"/>
<path d="M173.53 569.0L173.53 573.00Q173.53 599.00 199.02 604.11L367.69 637.89Q393.18 643.00 393.18 669.00L393.18 679.0L394.52 679.0L394.52 669.00Q394.52 643.00 369.03 637.89L200.39 604.11Q174.90 599.00 174.90 573.00L174.90 569.0Z" fill="#78b06b" stroke="#78b06b" stroke-width="0.35" opacity="0.7"/>
<path d="M181.10 569.0L181.10 573.00Q181.10 599.00 156.12 606.20L53.48 635.80Q28.49 643.00 28.49 669.00L28.49 679.0L28.60 679.0L28.60 669.00Q28.60 643.00 53.58 635.80L156.23 606.20Q181.21 599.00 181.21 573.00L181.21 569.0Z" fill="#9ac6d9" stroke="#9ac6d9" stroke-width="0.35" opacity="0.7"/>
<path d="M181.41 569.0L181.41 573.00Q181.41 599.00 157.36 608.87L98.25 633.13Q74.20 643.00 74.20 669.00L74.20 679.0L74.30 679.0L74.30 669.00Q74.30 643.00 98.35 633.13L157.47 608.87Q181.53 599.00 181.53 573.00L181.53 569.0Z" fill="#9ac6d9" stroke="#9ac6d9" stroke-width="0.35" opacity="0.7"/>
<path d="M181.73 569.0L181.73 573.00Q181.73 599.00 158.73 611.13L121.28 630.87Q98.28 643.00 98.28 669.00L98.28 679.0L98.44 679.0L98.44 669.00Q98.44 643.00 121.44 630.87L158.89 611.13Q181.89 599.00 181.89 573.00L181.89 569.0Z" fill="#9ac6d9" stroke="#9ac6d9" stroke-width="0.35" opacity="0.7"/>
<path d="M182.09 569.0L182.09 573.00Q182.09 599.00 160.30 613.19L136.30 628.81Q114.51 643.00 114.51 669.00L114.51 679.0L114.74 679.0L114.74 669.00Q114.74 643.00 136.53 628.82L160.55 613.18Q182.34 599.00 182.34 573.00L182.34 569.0Z" fill="#9ac6d9" stroke="#9ac6d9" stroke-width="0.35" opacity="0.7"/>
<path d="M182.54 569.0L182.54 575.82Q182.54 599.00 175.24 621.00L175.24 621.00Q167.95 643.00 167.95 666.18L167.95 679.0L168.34 679.0L168.34 666.18Q168.34 643.00 175.64 621.00L175.64 621.00Q182.94 599.00 182.94 575.82L182.94 569.0Z" fill="#9ac6d9" stroke="#9ac6d9" stroke-width="0.35" opacity="0.7"/>
<path d="M183.14 569.0L183.14 573.00Q183.14 599.00 198.30 620.12L199.55 621.88Q214.71 643.00 214.71 669.00L214.71 679.0L214.91 679.0L214.91 669.00Q214.91 643.00 199.75 621.87L198.50 620.13Q183.34 599.00 183.34 573.00L183.34 569.0Z" fill="#9ac6d9" stroke="#9ac6d9" stroke-width="0.35" opacity="0.7"/>
<path d="M183.54 569.0L183.54 573.00Q183.54 599.00 203.91 615.16L218.63 626.84Q239.00 643.00 239.00 669.00L239.00 679.0L239.37 679.0L239.37 669.00Q239.37 643.00 219.00 626.84L204.30 615.16Q183.93 599.00 183.93 573.00L183.93 569.0Z" fill="#9ac6d9" stroke="#9ac6d9" stroke-width="0.35" opacity="0.7"/>
<path d="M184.13 569.0L184.13 573.00Q184.13 599.00 209.25 605.70L323.88 636.30Q349.00 643.00 349.00 669.00L349.00 679.0L349.23 679.0L349.23 669.00Q349.23 643.00 324.11 636.30L209.50 605.70Q184.38 599.00 184.38 573.00L184.38 569.0Z" fill="#9ac6d9" stroke="#9ac6d9" stroke-width="0.35" opacity="0.7"/>
<path d="M184.58 569.0L184.58 573.00Q184.58 599.00 209.88 605.00L344.81 637.00Q370.11 643.00 370.11 669.00L370.11 679.0L370.42 679.0L370.42 669.00Q370.42 643.00 345.12 637.00L210.20 605.00Q184.90 599.00 184.90 573.00L184.90 569.0Z" fill="#9ac6d9" stroke="#9ac6d9" stroke-width="0.35" opacity="0.7"/>
<path d="M191.10 569.0L191.10 573.00Q191.10 599.00 166.01 605.80L53.89 636.20Q28.80 643.00 28.80 669.00L28.80 679.0L30.19 679.0L30.19 669.00Q30.19 643.00 55.28 636.20L167.43 605.80Q192.53 599.00 192.53 573.00L192.53 569.0Z" fill="#68c4eb" stroke="#68c4eb" stroke-width="0.35" opacity="0.7"/>
<path d="M192.73 569.0L192.73 573.00Q192.73 599.00 168.36 608.07L98.87 633.93Q74.50 643.00 74.50 669.00L74.50 679.0L75.39 679.0L75.39 669.00Q75.39 643.00 99.76 633.93L169.28 608.07Q193.64 599.00 193.64 573.00L193.64 569.0Z" fill="#68c4eb" stroke="#68c4eb" stroke-width="0.35" opacity="0.7"/>
<path d="M193.84 569.0L193.84 573.00Q193.84 599.00 171.14 611.66L137.65 630.34Q114.94 643.00 114.94 669.00L114.94 679.0L115.77 679.0L115.77 669.00Q115.77 643.00 138.48 630.34L171.99 611.66Q194.70 599.00 194.70 573.00L194.70 569.0Z" fill="#68c4eb" stroke="#68c4eb" stroke-width="0.35" opacity="0.7"/>
<path d="M194.90 569.0L194.90 573.00Q194.90 599.00 175.38 616.18L164.44 625.82Q144.93 643.00 144.93 669.00L144.93 679.0L145.07 679.0L145.07 669.00Q145.07 643.00 164.58 625.82L175.53 616.18Q195.04 599.00 195.04 573.00L195.04 569.0Z" fill="#68c4eb" stroke="#68c4eb" stroke-width="0.35" opacity="0.7"/>
<path d="M195.24 569.0L195.24 573.27Q195.24 599.00 181.89 621.00L181.89 621.00Q168.54 643.00 168.54 668.73L168.54 679.0L169.53 679.0L169.53 668.74Q169.53 643.00 182.90 621.00L182.90 621.00Q196.26 599.00 196.26 573.26L196.26 569.0Z" fill="#68c4eb" stroke="#68c4eb" stroke-width="0.35" opacity="0.7"/>
<path d="M196.46 569.0L196.46 575.11Q196.46 599.00 205.79 621.00L205.79 621.00Q215.11 643.00 215.11 666.89L215.11 679.0L216.48 679.0L216.48 666.89Q216.48 643.00 207.18 621.00L207.18 621.00Q197.87 599.00 197.87 575.11L197.87 569.0Z" fill="#68c4eb" stroke="#68c4eb" stroke-width="0.35" opacity="0.7"/>
<path d="M198.07 569.0L198.07 573.00Q198.07 599.00 215.91 617.92L221.73 624.08Q239.57 643.00 239.57 669.00L239.57 679.0L241.31 679.0L241.31 669.00Q241.31 643.00 223.48 624.08L217.68 617.92Q199.85 599.00 199.85 573.00L199.85 569.0Z" fill="#68c4eb" stroke="#68c4eb" stroke-width="0.35" opacity="0.7"/>
<path d="M200.05 569.0L200.05 573.00Q200.05 599.00 223.14 610.96L261.88 631.04Q284.96 643.00 284.96 669.00L284.96 679.0L286.27 679.0L286.27 669.00Q286.27 643.00 263.19 631.03L224.48 610.97Q201.40 599.00 201.40 573.00L201.40 569.0Z" fill="#68c4eb" stroke="#68c4eb" stroke-width="0.35" opacity="0.7"/>
<path d="M201.60 569.0L201.60 573.00Q201.60 599.00 225.75 608.64L287.70 633.36Q311.85 643.00 311.85 669.00L311.85 679.0L315.12 679.0L315.12 669.00Q315.12 643.00 290.97 633.36L229.09 608.64Q204.95 599.00 204.95 573.00L204.95 569.0Z" fill="#68c4eb" stroke="#68c4eb" stroke-width="0.35" opacity="0.7"/>
<path d="M205.15 569.0L205.15 573.00Q205.15 599.00 230.27 605.68L345.50 636.32Q370.62 643.00 370.62 669.00L370.62 679.0L373.25 679.0L373.25 669.00Q373.25 643.00 348.12 636.32L232.96 605.68Q207.84 599.00 207.84 573.00L207.84 569.0Z" fill="#68c4eb" stroke="#68c4eb" stroke-width="0.35" opacity="0.7"/>
<path d="M208.04 569.0L208.04 573.00Q208.04 599.00 233.34 604.96L369.41 637.04Q394.72 643.00 394.72 669.00L394.72 679.0L394.78 679.0L394.78 669.00Q394.78 643.00 369.47 637.04L233.41 604.96Q208.10 599.00 208.10 573.00L208.10 569.0Z" fill="#68c4eb" stroke="#68c4eb" stroke-width="0.35" opacity="0.7"/>
<path d="M214.30 569.0L214.30 573.00Q214.30 599.00 189.01 605.05L55.68 636.95Q30.39 643.00 30.39 669.00L30.39 679.0L31.27 679.0L31.27 669.00Q31.27 643.00 56.56 636.95L189.92 605.05Q215.21 599.00 215.21 573.00L215.21 569.0Z" fill="#8c88c3" stroke="#8c88c3" stroke-width="0.35" opacity="0.7"/>
<path d="M215.41 569.0L215.41 573.00Q215.41 599.00 190.33 605.85L79.34 636.15Q54.26 643.00 54.26 669.00L54.26 679.0L54.53 679.0L54.53 669.00Q54.53 643.00 79.62 636.15L190.61 605.85Q215.69 599.00 215.69 573.00L215.69 569.0Z" fill="#8c88c3" stroke="#8c88c3" stroke-width="0.35" opacity="0.7"/>
<path d="M215.89 569.0L215.89 573.00Q215.89 599.00 191.08 606.78L100.40 635.22Q75.59 643.00 75.59 669.00L75.59 679.0L76.06 679.0L76.06 669.00Q76.06 643.00 100.87 635.22L191.56 606.78Q216.37 599.00 216.37 573.00L216.37 569.0Z" fill="#8c88c3" stroke="#8c88c3" stroke-width="0.35" opacity="0.7"/>
<path d="M216.57 569.0L216.57 573.00Q216.57 599.00 192.21 608.09L123.00 633.91Q98.64 643.00 98.64 669.00L98.64 679.0L98.90 679.0L98.90 669.00Q98.90 643.00 123.26 633.91L192.48 608.09Q216.84 599.00 216.84 573.00L216.84 569.0Z" fill="#8c88c3" stroke="#8c88c3" stroke-width="0.35" opacity="0.7"/>
<path d="M217.04 569.0L217.04 573.00Q217.04 599.00 193.20 609.38L139.81 632.62Q115.97 643.00 115.97 669.00L115.97 679.0L116.40 679.0L116.40 669.00Q116.40 643.00 140.24 632.62L193.64 609.38Q217.48 599.00 217.48 573.00L217.48 569.0Z" fill="#8c88c3" stroke="#8c88c3" stroke-width="0.35" opacity="0.7"/>
<path d="M217.68 569.0L217.68 573.00Q217.68 599.00 195.46 612.50L167.49 629.50Q145.27 643.00 145.27 669.00L145.27 679.0L145.31 679.0L145.31 669.00Q145.31 643.00 167.53 629.50L195.51 612.50Q217.73 599.00 217.73 573.00L217.73 569.0Z" fill="#8c88c3" stroke="#8c88c3" stroke-width="0.35" opacity="0.7"/>
<path d="M217.93 569.0L217.93 573.00Q217.93 599.00 198.73 616.53L188.94 625.47Q169.73 643.00 169.73 669.00L169.73 679.0L170.98 679.0L170.98 669.00Q170.98 643.00 190.19 625.48L200.00 616.52Q219.21 599.00 219.21 573.00L219.21 569.0Z" fill="#8c88c3" stroke="#8c88c3" stroke-width="0.35" opacity="0.7"/>
<path d="M219.39 569.0L219.39 573.77Q219.39 599.00 207.04 621.00L207.04 621.00Q194.69 643.00 194.69 668.23L194.69 679.0L194.69 679.0L194.69 668.23Q194.69 643.00 207.04 621.00L207.04 621.00Q219.39 599.00 219.39 573.77L219.39 569.0Z" fill="#8c88c3" stroke="#8c88c3" stroke-width="0.35" opacity="0.7"/>
<path d="M219.57 569.0L219.57 576.95Q219.57 599.00 218.13 621.00L218.13 621.00Q216.68 643.00 216.68 665.05L216.68 679.0L217.91 679.0L217.91 665.05Q217.91 643.00 219.37 621.00L219.37 621.00Q220.83 599.00 220.83 576.95L220.83 569.0Z" fill="#8c88c3" stroke="#8c88c3" stroke-width="0.35" opacity="0.7"/>
<path d="M221.03 569.0L221.03 574.73Q221.03 599.00 231.27 621.00L231.27 621.00Q241.51 643.00 241.51 667.27L241.51 679.0L242.36 679.0L242.36 667.26Q242.36 643.00 232.14 621.00L232.14 621.00Q221.91 599.00 221.91 574.74L221.91 569.0Z" fill="#8c88c3" stroke="#8c88c3" stroke-width="0.35" opacity="0.7"/>
<path d="M222.11 569.0L222.11 573.00Q222.11 599.00 240.35 617.53L247.20 624.47Q265.44 643.00 265.44 669.00L265.44 679.0L265.94 679.0L265.94 669.00Q265.94 643.00 247.70 624.47L240.87 617.53Q222.63 599.00 222.63 573.00L222.63 569.0Z" fill="#8c88c3" stroke="#8c88c3" stroke-width="0.35" opacity="0.7"/>
<path d="M222.83 569.0L222.83 573.00Q222.83 599.00 244.22 613.79L265.08 628.21Q286.47 643.00 286.47 669.00L286.47 679.0L286.96 679.0L286.96 669.00Q286.96 643.00 265.57 628.21L244.72 613.79Q223.33 599.00 223.33 573.00L223.33 569.0Z" fill="#8c88c3" stroke="#8c88c3" stroke-width="0.35" opacity="0.7"/>
<path d="M223.53 569.0L223.53 573.00Q223.53 599.00 246.98 610.24L291.87 631.76Q315.32 643.00 315.32 669.00L315.32 679.0L315.82 679.0L315.82 669.00Q315.82 643.00 292.37 631.76L247.49 610.24Q224.05 599.00 224.05 573.00L224.05 569.0Z" fill="#8c88c3" stroke="#8c88c3" stroke-width="0.35" opacity="0.7"/>
<path d="M224.25 569.0L224.25 573.00Q224.25 599.00 248.78 607.62L324.91 634.38Q349.43 643.00 349.43 669.00L349.43 679.0L349.55 679.0L349.55 669.00Q349.55 643.00 325.02 634.38L248.90 607.62Q224.37 599.00 224.37 573.00L224.37 569.0Z" fill="#8c88c3" stroke="#8c88c3" stroke-width="0.35" opacity="0.7"/>
<path d="M224.57 569.0L224.57 573.00Q224.57 599.00 249.51 606.37L348.51 635.63Q373.45 643.00 373.45 669.00L373.45 679.0L374.35 679.0L374.35 669.00Q374.35 643.00 349.41 635.63L250.43 606.37Q225.50 599.00 225.50 573.00L225.50 569.0Z" fill="#8c88c3" stroke="#8c88c3" stroke-width="0.35" opacity="0.7"/>
<path d="M225.70 569.0L225.70 573.00Q225.70 599.00 250.86 605.54L369.81 636.46Q394.98 643.00 394.98 669.00L394.98 679.0L394.98 679.0L394.98 669.00Q394.98 643.00 369.81 636.46L250.86 605.54Q225.70 599.00 225.70 573.00L225.70 569.0Z" fill="#8c88c3" stroke="#8c88c3" stroke-width="0.35" opacity="0.7"/>
<path d="M232.00 569.0L232.00 573.00Q232.00 599.00 206.60 604.57L56.87 637.43Q31.47 643.00 31.47 669.00L31.47 679.0L34.07 679.0L34.07 669.00Q34.07 643.00 59.47 637.43L209.27 604.57Q234.66 599.00 234.66 573.00L234.66 569.0Z" fill="#9594c8" stroke="#9594c8" stroke-width="0.35" opacity="0.7"/>
<path d="M234.86 569.0L234.86 573.00Q234.86 599.00 209.60 605.17L79.99 636.83Q54.73 643.00 54.73 669.00L54.73 679.0L55.52 679.0L55.52 669.00Q55.52 643.00 80.78 636.83L210.41 605.17Q235.67 599.00 235.67 573.00L235.67 569.0Z" fill="#9594c8" stroke="#9594c8" stroke-width="0.35" opacity="0.7"/>
<path d="M235.87 569.0L235.87 573.00Q235.87 599.00 210.81 605.91L101.32 636.09Q76.26 643.00 76.26 669.00L76.26 679.0L77.98 679.0L77.98 669.00Q77.98 643.00 103.05 636.09L212.57 605.91Q237.64 599.00 237.64 573.00L237.64 569.0Z" fill="#9594c8" stroke="#9594c8" stroke-width="0.35" opacity="0.7"/>
<path d="M237.84 569.0L237.84 573.00Q237.84 599.00 213.06 606.86L123.88 635.14Q99.10 643.00 99.10 669.00L99.10 679.0L99.86 679.0L99.86 669.00Q99.86 643.00 124.64 635.14L213.84 606.86Q238.62 599.00 238.62 573.00L238.62 569.0Z" fill="#9594c8" stroke="#9594c8" stroke-width="0.35" opacity="0.7"/>
<path d="M238.82 569.0L238.82 573.00Q238.82 599.00 214.36 607.81L141.06 634.19Q116.60 643.00 116.60 669.00L116.60 679.0L117.60 679.0L117.60 669.00Q117.60 643.00 142.07 634.20L215.39 607.80Q239.86 599.00 239.86 573.00L239.86 569.0Z" fill="#9594c8" stroke="#9594c8" stroke-width="0.35" opacity="0.7"/>
<path d="M240.06 569.0L240.06 573.00Q240.06 599.00 216.48 609.97L169.08 632.03Q145.51 643.00 145.51 669.00L145.51 679.0L146.85 679.0L146.85 669.00Q146.85 643.00 170.42 632.03L217.85 609.97Q241.43 599.00 241.43 573.00L241.43 569.0Z" fill="#9594c8" stroke="#9594c8" stroke-width="0.35" opacity="0.7"/>
<path d="M241.63 569.0L241.63 573.00Q241.63 599.00 219.57 612.77L193.24 629.23Q171.18 643.00 171.18 669.00L171.18 679.0L178.01 679.0L178.01 669.00Q178.01 643.00 200.08 629.25L226.55 612.75Q248.61 599.00 248.61 573.00L248.61 569.0Z" fill="#9594c8" stroke="#9594c8" stroke-width="0.35" opacity="0.7"/>
<path d="M248.81 569.0L248.81 573.00Q248.81 599.00 228.66 615.43L215.01 626.57Q194.86 643.00 194.86 669.00L194.86 679.0L196.50 679.0L196.50 669.00Q196.50 643.00 216.65 626.57L230.33 615.43Q250.49 599.00 250.49 573.00L250.49 569.0Z" fill="#9594c8" stroke="#9594c8" stroke-width="0.35" opacity="0.7"/>
<path d="M250.69 569.0L250.69 573.00Q250.69 599.00 235.21 619.90L233.58 622.10Q218.11 643.00 218.11 669.00L218.11 679.0L221.37 679.0L221.37 669.00Q221.37 643.00 236.86 622.12L238.53 619.88Q254.03 599.00 254.03 573.00L254.03 569.0Z" fill="#9594c8" stroke="#9594c8" stroke-width="0.35" opacity="0.7"/>
<path d="M254.23 569.0L254.23 576.24Q254.23 599.00 248.39 621.00L248.39 621.00Q242.56 643.00 242.56 665.76L242.56 679.0L244.41 679.0L244.41 665.77Q244.41 643.00 250.26 621.00L250.26 621.00Q256.12 599.00 256.12 576.23L256.12 569.0Z" fill="#9594c8" stroke="#9594c8" stroke-width="0.35" opacity="0.7"/>
<path d="M256.32 569.0L256.32 576.46Q256.32 599.00 261.23 621.00L261.23 621.00Q266.14 643.00 266.14 665.54L266.14 679.0L267.98 679.0L267.98 665.54Q267.98 643.00 263.10 621.00L263.10 621.00Q258.21 599.00 258.21 576.46L258.21 569.0Z" fill="#9594c8" stroke="#9594c8" stroke-width="0.35" opacity="0.7"/>
<path d="M258.41 569.0L258.41 573.00Q258.41 599.00 272.63 620.77L272.93 621.23Q287.16 643.00 287.16 669.00L287.16 679.0L288.28 679.0L288.28 669.00Q288.28 643.00 274.07 621.23L273.78 620.77Q259.57 599.00 259.57 573.00L259.57 569.0Z" fill="#9594c8" stroke="#9594c8" stroke-width="0.35" opacity="0.7"/>
<path d="M259.77 569.0L259.77 573.00Q259.77 599.00 280.24 615.02L295.54 626.98Q316.02 643.00 316.02 669.00L316.02 679.0L317.17 679.0L317.17 669.00Q317.17 643.00 296.70 626.98L281.43 615.02Q260.95 599.00 260.95 573.00L260.95 569.0Z" fill="#9594c8" stroke="#9594c8" stroke-width="0.35" opacity="0.7"/>
<path d="M261.15 569.0L261.15 573.00Q261.15 599.00 284.44 610.56L326.47 631.44Q349.75 643.00 349.75 669.00L349.75 679.0L351.07 679.0L351.07 669.00Q351.07 643.00 327.79 631.43L285.79 610.57Q262.51 599.00 262.51 573.00L262.51 569.0Z" fill="#9594c8" stroke="#9594c8" stroke-width="0.35" opacity="0.7"/>
<path d="M262.71 569.0L262.71 573.00Q262.71 599.00 286.90 608.52L350.35 633.48Q374.55 643.00 374.55 669.00L374.55 679.0L377.54 679.0L377.54 669.00Q377.54 643.00 353.35 633.48L289.97 608.52Q265.78 599.00 265.78 573.00L265.78 569.0Z" fill="#9594c8" stroke="#9594c8" stroke-width="0.35" opacity="0.7"/>
<path d="M265.98 569.0L265.98 573.00Q265.98 599.00 290.59 607.38L370.57 634.62Q395.18 643.00 395.18 669.00L395.18 679.0L395.88 679.0L395.88 669.00Q395.88 643.00 371.27 634.62L291.31 607.38Q266.70 599.00 266.70 573.00L266.70 569.0Z" fill="#9594c8" stroke="#9594c8" stroke-width="0.35" opacity="0.7"/>
<path d="M273.00 569.0L273.00 573.00Q273.00 599.00 247.43 603.71L59.84 638.29Q34.27 643.00 34.27 669.00L34.27 679.0L36.42 679.0L36.42 669.00Q36.42 643.00 61.99 638.29L249.63 603.71Q275.20 599.00 275.20 573.00L275.20 569.0Z" fill="#c4aeda" stroke="#c4aeda" stroke-width="0.35" opacity="0.7"/>
<path d="M275.40 569.0L275.40 573.00Q275.40 599.00 249.91 604.11L81.21 637.89Q55.72 643.00 55.72 669.00L55.72 679.0L56.63 679.0L56.63 669.00Q56.63 643.00 82.12 637.89L250.84 604.11Q276.33 599.00 276.33 573.00L276.33 569.0Z" fill="#c4aeda" stroke="#c4aeda" stroke-width="0.35" opacity="0.7"/>
<path d="M276.53 569.0L276.53 573.00Q276.53 599.00 251.15 604.63L103.56 637.37Q78.18 643.00 78.18 669.00L78.18 679.0L79.60 679.0L79.60 669.00Q79.60 643.00 104.98 637.37L252.60 604.63Q277.99 599.00 277.99 573.00L277.99 569.0Z" fill="#c4aeda" stroke="#c4aeda" stroke-width="0.35" opacity="0.7"/>
<path d="M278.19 569.0L278.19 573.00Q278.19 599.00 253.11 605.88L142.88 636.12Q117.80 643.00 117.80 669.00L117.80 679.0L117.99 679.0L117.99 669.00Q117.99 643.00 143.06 636.12L253.31 605.88Q278.38 599.00 278.38 573.00L278.38 569.0Z" fill="#c4aeda" stroke="#c4aeda" stroke-width="0.35" opacity="0.7"/>
<path d="M278.58 569.0L278.58 573.00Q278.58 599.00 253.92 607.25L171.70 634.75Q147.05 643.00 147.05 669.00L147.05 679.0L148.60 679.0L148.60 669.00Q148.60 643.00 173.26 634.75L255.52 607.25Q280.17 599.00 280.17 573.00L280.17 569.0Z" fill="#c4aeda" stroke="#c4aeda" stroke-width="0.35" opacity="0.7"/>
<path d="M280.37 569.0L280.37 573.00Q280.37 599.00 256.49 609.28L202.09 632.72Q178.21 643.00 178.21 669.00L178.21 679.0L179.43 679.0L179.43 669.00Q179.43 643.00 203.31 632.72L257.74 609.28Q281.62 599.00 281.62 573.00L281.62 569.0Z" fill="#c4aeda" stroke="#c4aeda" stroke-width="0.35" opacity="0.7"/>
<path d="M281.82 569.0L281.82 573.00Q281.82 599.00 258.72 610.94L219.79 631.06Q196.70 643.00 196.70 669.00L196.70 679.0L199.58 679.0L199.58 669.00Q199.58 643.00 222.68 631.07L261.67 610.93Q284.77 599.00 284.77 573.00L284.77 569.0Z" fill="#c4aeda" stroke="#c4aeda" stroke-width="0.35" opacity="0.7"/>
<path d="M284.97 569.0L284.97 573.00Q284.97 599.00 263.61 613.82L242.93 628.18Q221.57 643.00 221.57 669.00L221.57 679.0L222.53 679.0L222.53 669.00Q222.53 643.00 243.89 628.18L264.60 613.82Q285.96 599.00 285.96 573.00L285.96 569.0Z" fill="#c4aeda" stroke="#c4aeda" stroke-width="0.35" opacity="0.7"/>
<path d="M286.16 569.0L286.16 573.00Q286.16 599.00 268.31 617.90L262.46 624.10Q244.61 643.00 244.61 669.00L244.61 679.0L245.56 679.0L245.56 669.00Q245.56 643.00 263.41 624.10L269.27 617.90Q287.13 599.00 287.13 573.00L287.13 569.0Z" fill="#c4aeda" stroke="#c4aeda" stroke-width="0.35" opacity="0.7"/>
<path d="M287.33 569.0L287.33 575.01Q287.33 599.00 277.76 621.00L277.76 621.00Q268.18 643.00 268.18 666.99L268.18 679.0L269.13 679.0L269.13 667.00Q269.13 643.00 278.71 621.00L278.71 621.00Q288.30 599.00 288.30 575.00L288.30 569.0Z" fill="#c4aeda" stroke="#c4aeda" stroke-width="0.35" opacity="0.7"/>
<path d="M288.50 569.0L288.50 577.00Q288.50 599.00 288.49 621.00L288.49 621.00Q288.48 643.00 288.48 665.00L288.48 679.0L290.51 679.0L290.51 665.00Q290.51 643.00 290.55 621.00L290.55 621.00Q290.58 599.00 290.58 577.00L290.58 569.0Z" fill="#c4aeda" stroke="#c4aeda" stroke-width="0.35" opacity="0.7"/>
<path d="M290.78 569.0L290.78 573.29Q290.78 599.00 304.08 621.00L304.08 621.00Q317.37 643.00 317.37 668.71L317.37 679.0L324.01 679.0L324.01 668.67Q324.01 643.00 310.79 621.00L310.79 621.00Q297.57 599.00 297.57 573.33L297.57 569.0Z" fill="#c4aeda" stroke="#c4aeda" stroke-width="0.35" opacity="0.7"/>
<path d="M297.77 569.0L297.77 573.00Q297.77 599.00 320.55 611.53L354.96 630.47Q377.74 643.00 377.74 669.00L377.74 679.0L378.74 679.0L378.74 669.00Q378.74 643.00 355.96 630.46L321.57 611.54Q298.79 599.00 298.79 573.00L298.79 569.0Z" fill="#c4aeda" stroke="#c4aeda" stroke-width="0.35" opacity="0.7"/>
<path d="M298.99 569.0L298.99 573.00Q298.99 599.00 322.68 609.73L372.40 632.27Q396.08 643.00 396.08 669.00L396.08 679.0L396.96 679.0L396.96 669.00Q396.96 643.00 373.28 632.26L323.58 609.74Q299.90 599.00 299.90 573.00L299.90 569.0Z" fill="#c4aeda" stroke="#c4aeda" stroke-width="0.35" opacity="0.7"/>
<path d="M306.10 569.0L306.10 573.00Q306.10 599.00 280.44 603.19L62.28 638.81Q36.62 643.00 36.62 669.00L36.62 679.0L38.37 679.0L38.37 669.00Q38.37 643.00 64.03 638.81L282.23 603.19Q307.89 599.00 307.89 573.00L307.89 569.0Z" fill="#e2b5da" stroke="#e2b5da" stroke-width="0.35" opacity="0.7"/>
<path d="M308.09 569.0L308.09 573.00Q308.09 599.00 282.65 604.38L125.50 637.62Q100.06 643.00 100.06 669.00L100.06 679.0L101.05 679.0L101.05 669.00Q101.05 643.00 126.48 637.62L283.67 604.38Q309.10 599.00 309.10 573.00L309.10 569.0Z" fill="#e2b5da" stroke="#e2b5da" stroke-width="0.35" opacity="0.7"/>
<path d="M309.30 569.0L309.30 573.00Q309.30 599.00 283.97 604.83L143.53 637.17Q118.19 643.00 118.19 669.00L118.19 679.0L118.40 679.0L118.40 669.00Q118.40 643.00 143.74 637.17L284.19 604.83Q309.52 599.00 309.52 573.00L309.52 569.0Z" fill="#e2b5da" stroke="#e2b5da" stroke-width="0.35" opacity="0.7"/>
<path d="M309.72 569.0L309.72 573.00Q309.72 599.00 285.58 608.66L223.91 633.34Q199.78 643.00 199.78 669.00L199.78 679.0L199.88 679.0L199.88 669.00Q199.88 643.00 224.02 633.34L285.70 608.66Q309.84 599.00 309.84 573.00L309.84 569.0Z" fill="#e2b5da" stroke="#e2b5da" stroke-width="0.35" opacity="0.7"/>
<path d="M310.04 569.0L310.04 573.00Q310.04 599.00 286.82 610.70L245.95 631.30Q222.73 643.00 222.73 669.00L222.73 679.0L222.91 679.0L222.91 669.00Q222.91 643.00 246.13 631.30L287.00 610.70Q310.22 599.00 310.22 573.00L310.22 569.0Z" fill="#e2b5da" stroke="#e2b5da" stroke-width="0.35" opacity="0.7"/>
<path d="M310.42 569.0L310.42 573.00Q310.42 599.00 292.68 618.00L287.07 624.00Q269.33 643.00 269.33 669.00L269.33 679.0L271.02 679.0L271.02 669.00Q271.02 643.00 288.78 624.01L294.40 617.99Q312.16 599.00 312.16 573.00L312.16 569.0Z" fill="#e2b5da" stroke="#e2b5da" stroke-width="0.35" opacity="0.7"/>
<path d="M312.36 569.0L312.36 574.48Q312.36 599.00 301.54 621.00L301.54 621.00Q290.71 643.00 290.71 667.52L290.71 679.0L292.36 679.0L292.36 667.53Q292.36 643.00 303.21 621.00L303.21 621.00Q314.05 599.00 314.05 574.47L314.05 569.0Z" fill="#e2b5da" stroke="#e2b5da" stroke-width="0.35" opacity="0.7"/>
<path d="M314.25 569.0L314.25 576.44Q314.25 599.00 319.23 621.00L319.23 621.00Q324.21 643.00 324.21 665.56L324.21 679.0L325.64 679.0L325.64 665.55Q325.64 643.00 320.68 621.00L320.68 621.00Q315.72 599.00 315.72 576.45L315.72 569.0Z" fill="#e2b5da" stroke="#e2b5da" stroke-width="0.35" opacity="0.7"/>
<path d="M315.92 569.0L315.92 573.00Q315.92 599.00 332.21 619.27L334.99 622.73Q351.27 643.00 351.27 669.00L351.27 679.0L352.77 679.0L352.77 669.00Q352.77 643.00 336.49 622.72L333.73 619.28Q317.45 599.00 317.45 573.00L317.45 569.0Z" fill="#e2b5da" stroke="#e2b5da" stroke-width="0.35" opacity="0.7"/>
<path d="M317.65 569.0L317.65 573.00Q317.65 599.00 340.40 611.59L374.41 630.41Q397.16 643.00 397.16 669.00L397.16 679.0L397.20 679.0L397.20 669.00Q397.20 643.00 374.45 630.41L340.45 611.59Q317.70 599.00 317.70 573.00L317.70 569.0Z" fill="#e2b5da" stroke="#e2b5da" stroke-width="0.35" opacity="0.7"/>
<path d="M323.30 569.0L323.30 573.00Q323.30 599.00 297.60 602.97L64.26 639.03Q38.57 643.00 38.57 669.00L38.57 679.0L39.92 679.0L39.92 669.00Q39.92 643.00 65.61 639.03L298.99 602.97Q324.69 599.00 324.69 573.00L324.69 569.0Z" fill="#d862aa" stroke="#d862aa" stroke-width="0.35" opacity="0.7"/>
<path d="M324.89 569.0L324.89 573.00Q324.89 599.00 300.00 606.54L204.51 635.46Q179.63 643.00 179.63 669.00L179.63 679.0L180.98 679.0L180.98 669.00Q180.98 643.00 205.87 635.46L301.40 606.54Q326.28 599.00 326.28 573.00L326.28 569.0Z" fill="#d862aa" stroke="#d862aa" stroke-width="0.35" opacity="0.7"/>
<path d="M326.48 569.0L326.48 573.00Q326.48 599.00 302.56 609.18L247.03 632.82Q223.11 643.00 223.11 669.00L223.11 679.0L224.95 679.0L224.95 669.00Q224.95 643.00 248.88 632.82L304.45 609.18Q328.37 599.00 328.37 573.00L328.37 569.0Z" fill="#d862aa" stroke="#d862aa" stroke-width="0.35" opacity="0.7"/>
<path d="M328.57 569.0L328.57 573.00Q328.57 599.00 305.61 611.20L268.72 630.80Q245.76 643.00 245.76 669.00L245.76 679.0L247.07 679.0L247.07 669.00Q247.07 643.00 270.03 630.81L306.96 611.19Q329.92 599.00 329.92 573.00L329.92 569.0Z" fill="#d862aa" stroke="#d862aa" stroke-width="0.35" opacity="0.7"/>
<path d="M330.12 569.0L330.12 573.00Q330.12 599.00 313.24 618.78L309.44 623.22Q292.56 643.00 292.56 669.00L292.56 679.0L293.83 679.0L293.83 669.00Q293.83 643.00 310.72 623.23L314.54 618.77Q331.43 599.00 331.43 573.00L331.43 569.0Z" fill="#d862aa" stroke="#d862aa" stroke-width="0.35" opacity="0.7"/>
<path d="M331.63 569.0L331.63 576.81Q331.63 599.00 328.73 621.00L328.73 621.00Q325.84 643.00 325.84 665.19L325.84 679.0L327.15 679.0L327.15 665.19Q327.15 643.00 330.06 621.00L330.06 621.00Q332.96 599.00 332.96 576.81L332.96 569.0Z" fill="#d862aa" stroke="#d862aa" stroke-width="0.35" opacity="0.7"/>
<path d="M333.16 569.0L333.16 574.87Q333.16 599.00 343.07 621.00L343.07 621.00Q352.97 643.00 352.97 667.13L352.97 679.0L353.27 679.0L353.27 667.12Q353.27 643.00 343.37 621.00L343.37 621.00Q333.48 599.00 333.48 574.88L333.48 569.0Z" fill="#d862aa" stroke="#d862aa" stroke-width="0.35" opacity="0.7"/>
<path d="M333.68 569.0L333.68 573.00Q333.68 599.00 352.32 617.12L360.30 624.88Q378.94 643.00 378.94 669.00L378.94 679.0L381.89 679.0L381.89 669.00Q381.89 643.00 363.26 624.86L355.33 617.14Q336.70 599.00 336.70 573.00L336.70 569.0Z" fill="#d862aa" stroke="#d862aa" stroke-width="0.35" opacity="0.7"/>
<path d="M343.30 569.0L343.30 573.00Q343.30 599.00 317.57 602.73L65.85 639.27Q40.12 643.00 40.12 669.00L40.12 679.0L43.40 679.0L43.40 669.00Q43.40 643.00 69.13 639.27L320.93 602.73Q346.66 599.00 346.66 573.00L346.66 569.0Z" fill="#e2aed3" stroke="#e2aed3" stroke-width="0.35" opacity="0.7"/>
<path d="M346.86 569.0L346.86 573.00Q346.86 599.00 321.16 602.90L82.53 639.10Q56.83 643.00 56.83 669.00L56.83 679.0L58.70 679.0L58.70 669.00Q58.70 643.00 84.41 639.10L323.08 602.90Q348.78 599.00 348.78 573.00L348.78 569.0Z" fill="#e2aed3" stroke="#e2aed3" stroke-width="0.35" opacity="0.7"/>
<path d="M348.98 569.0L348.98 573.00Q348.98 599.00 323.32 603.19L105.46 638.81Q79.80 643.00 79.80 669.00L79.80 679.0L82.90 679.0L82.90 669.00Q82.90 643.00 108.56 638.81L326.50 603.19Q352.16 599.00 352.16 573.00L352.16 569.0Z" fill="#e2aed3" stroke="#e2aed3" stroke-width="0.35" opacity="0.7"/>
<path d="M352.36 569.0L352.36 573.00Q352.36 599.00 326.75 603.49L126.85 638.51Q101.25 643.00 101.25 669.00L101.25 679.0L103.70 679.0L103.70 669.00Q103.70 643.00 129.31 638.51L329.26 603.49Q354.87 599.00 354.87 573.00L354.87 569.0Z" fill="#e2aed3" stroke="#e2aed3" stroke-width="0.35" opacity="0.7"/>
<path d="M355.07 569.0L355.07 573.00Q355.07 599.00 329.51 603.76L144.16 638.24Q118.60 643.00 118.60 669.00L118.60 679.0L119.60 679.0L119.60 669.00Q119.60 643.00 145.16 638.24L330.54 603.76Q356.10 599.00 356.10 573.00L356.10 569.0Z" fill="#e2aed3" stroke="#e2aed3" stroke-width="0.35" opacity="0.7"/>
<path d="M356.30 569.0L356.30 573.00Q356.30 599.00 330.78 603.97L155.69 638.03Q130.17 643.00 130.17 669.00L130.17 679.0L131.30 679.0L131.30 669.00Q131.30 643.00 156.82 638.03L331.95 603.97Q357.47 599.00 357.47 573.00L357.47 569.0Z" fill="#e2aed3" stroke="#e2aed3" stroke-width="0.35" opacity="0.7"/>
<path d="M357.67 569.0L357.67 573.00Q357.67 599.00 332.44 605.29L206.41 636.71Q181.18 643.00 181.18 669.00L181.18 679.0L183.90 679.0L183.90 669.00Q183.90 643.00 209.13 636.71L335.22 605.29Q360.45 599.00 360.45 573.00L360.45 569.0Z" fill="#e2aed3" stroke="#e2aed3" stroke-width="0.35" opacity="0.7"/>
<path d="M360.65 569.0L360.65 573.00Q360.65 599.00 335.57 605.87L225.16 636.13Q200.08 643.00 200.08 669.00L200.08 679.0L201.20 679.0L201.20 669.00Q201.20 643.00 226.28 636.13L336.72 605.87Q361.80 599.00 361.80 573.00L361.80 569.0Z" fill="#e2aed3" stroke="#e2aed3" stroke-width="0.35" opacity="0.7"/>
<path d="M362.00 569.0L362.00 573.00Q362.00 599.00 337.25 606.96L249.91 635.04Q225.15 643.00 225.15 669.00L225.15 679.0L228.40 679.0L228.40 669.00Q228.40 643.00 253.15 635.05L340.57 606.95Q365.32 599.00 365.32 573.00L365.32 569.0Z" fill="#e2aed3" stroke="#e2aed3" stroke-width="0.35" opacity="0.7"/>
<path d="M365.52 569.0L365.52 573.00Q365.52 599.00 341.15 608.07L271.64 633.93Q247.27 643.00 247.27 669.00L247.27 679.0L249.90 679.0L249.90 669.00Q249.90 643.00 274.27 633.94L343.85 608.06Q368.22 599.00 368.22 573.00L368.22 569.0Z" fill="#e2aed3" stroke="#e2aed3" stroke-width="0.35" opacity="0.7"/>
<path d="M368.42 569.0L368.42 573.00Q368.42 599.00 344.73 609.72L294.91 632.28Q271.22 643.00 271.22 669.00L271.22 679.0L275.20 679.0L275.20 669.00Q275.20 643.00 298.89 632.29L348.80 609.71Q372.49 599.00 372.49 573.00L372.49 569.0Z" fill="#e2aed3" stroke="#e2aed3" stroke-width="0.35" opacity="0.7"/>
<path d="M372.69 569.0L372.69 573.00Q372.69 599.00 350.00 611.69L316.73 630.31Q294.03 643.00 294.03 669.00L294.03 679.0L296.70 679.0L296.70 669.00Q296.70 643.00 319.40 630.31L352.73 611.69Q375.42 599.00 375.42 573.00L375.42 569.0Z" fill="#e2aed3" stroke="#e2aed3" stroke-width="0.35" opacity="0.7"/>
<path d="M375.62 569.0L375.62 573.00Q375.62 599.00 356.41 616.51L346.56 625.49Q327.35 643.00 327.35 669.00L327.35 679.0L329.40 679.0L329.40 669.00Q329.40 643.00 348.63 625.50L358.50 616.50Q377.73 599.00 377.73 573.00L377.73 569.0Z" fill="#e2aed3" stroke="#e2aed3" stroke-width="0.35" opacity="0.7"/>
<path d="M377.93 569.0L377.93 573.83Q377.93 599.00 365.70 621.00L365.70 621.00Q353.47 643.00 353.47 668.17L353.47 679.0L356.40 679.0L356.40 668.19Q356.40 643.00 368.66 621.00L368.66 621.00Q380.93 599.00 380.93 573.81L380.93 569.0Z" fill="#e2aed3" stroke="#e2aed3" stroke-width="0.35" opacity="0.7"/>
<path d="M381.13 569.0L381.13 576.99Q381.13 599.00 381.61 621.00L381.61 621.00Q382.09 643.00 382.09 665.01L382.09 679.0L384.60 679.0L384.60 665.00Q384.60 643.00 384.15 621.00L384.15 621.00Q383.70 599.00 383.70 577.00L383.70 569.0Z" fill="#e2aed3" stroke="#e2aed3" stroke-width="0.35" opacity="0.7"/>
</g>
<rect x="38.90" y="566.90" width="7.40" height="2.10" fill="#eee49a"/>
<text x="42.80" y="577.26" font-size="7.4" text-anchor="middle" fill="#f5aa50">ADAM15</text>
<rect x="52.60" y="566.90" width="25.20" height="2.10" fill="#afad88"/>
<text x="65.20" y="563.96" font-size="7.4" text-anchor="middle" fill="#a3a381">ADAM17</text>
<rect x="83.90" y="566.90" width="78.00" height="2.10" fill="#d5deae"/>
<text x="122.50" y="563.96" font-size="7.4" text-anchor="middle" fill="#d0d9a6">ANXA1</text>
<rect x="167.30" y="566.90" width="7.70" height="2.10" fill="#6ea860"/>
<text x="171.00" y="563.96" font-size="7.4" text-anchor="middle" fill="#5da559">APOE</text>
<rect x="181.00" y="566.90" width="4.00" height="2.10" fill="#96c3d6"/>
<text x="182.80" y="577.16" font-size="7.4" text-anchor="middle" fill="#88bbd4">CLSTN1</text>
<rect x="191.00" y="566.90" width="17.20" height="2.10" fill="#5dbfe8"/>
<text x="199.30" y="563.86" font-size="7.4" text-anchor="middle" fill="#4fb7e6">COL1A1</text>
<rect x="214.20" y="566.90" width="11.60" height="2.10" fill="#8480c0"/>
<text x="220.10" y="563.86" font-size="7.4" text-anchor="middle" fill="#7474b6">FN1</text>
<rect x="231.90" y="566.90" width="34.90" height="2.10" fill="#8f8ec6"/>
<text x="249.00" y="563.86" font-size="7.4" text-anchor="middle" fill="#7f7fb8">ITGB1</text>
<rect x="272.90" y="566.90" width="27.10" height="2.10" fill="#c0a8d8"/>
<text x="286.20" y="563.66" font-size="7.4" text-anchor="middle" fill="#b59fd0">NAMPT</text>
<rect x="306.00" y="566.90" width="11.80" height="2.10" fill="#e0b0d8"/>
<text x="311.70" y="563.66" font-size="7.4" text-anchor="middle" fill="#d7a6cf">NPNT</text>
<rect x="323.20" y="566.90" width="13.60" height="2.10" fill="#d858a8"/>
<text x="330.00" y="577.36" font-size="7.4" text-anchor="middle" fill="#c8479a">PSEN1</text>
<rect x="343.20" y="566.90" width="40.60" height="2.10" fill="#e0a8d0"/>
<text x="363.00" y="563.66" font-size="7.4" text-anchor="middle" fill="#d88fc0">THBS1</text>
<rect x="24.50" y="679.00" width="19.00" height="1.80" fill="#3aa898"/>
<text x="38.00" y="687.30" font-size="7.4" text-anchor="end" fill="#2e9e8c" transform="rotate(-45 38.00 687.30)">B</text>
<rect x="50.20" y="679.00" width="8.60" height="1.80" fill="#a8d4e8"/>
<text x="58.50" y="687.30" font-size="7.4" text-anchor="end" fill="#9ccbe2" transform="rotate(-45 58.50 687.30)">CD4+ T</text>
<rect x="65.40" y="679.00" width="17.60" height="1.80" fill="#7898a0"/>
<text x="78.20" y="687.30" font-size="7.4" text-anchor="end" fill="#688890" transform="rotate(-45 78.20 687.30)">CD8+ T</text>
<rect x="89.10" y="679.00" width="14.70" height="1.80" fill="#80c8f0"/>
<text x="100.45" y="687.30" font-size="7.4" text-anchor="end" fill="#72bfea" transform="rotate(-45 100.45 687.30)">DCs</text>
<rect x="110.00" y="679.00" width="9.70" height="1.80" fill="#98b8e8"/>
<text x="118.85" y="687.30" font-size="7.4" text-anchor="end" fill="#8caee0" transform="rotate(-45 118.85 687.30)">Endothelial</text>
<rect x="125.90" y="679.00" width="5.50" height="1.80" fill="#7090d8"/>
<text x="132.65" y="687.30" font-size="7.4" text-anchor="end" fill="#6585cf" transform="rotate(-45 132.65 687.30)">Epithelial</text>
<rect x="137.50" y="679.00" width="11.20" height="1.80" fill="#5060b0"/>
<text x="147.10" y="687.30" font-size="7.4" text-anchor="end" fill="#4555a5" transform="rotate(-45 147.10 687.30)">Fibroblasts</text>
<rect x="154.80" y="679.00" width="29.20" height="1.80" fill="#8070c0"/>
<text x="173.40" y="687.30" font-size="7.4" text-anchor="end" fill="#7262b2" transform="rotate(-45 173.40 687.30)">MDSCs</text>
<rect x="190.00" y="679.00" width="11.30" height="1.80" fill="#c0b0e0"/>
<text x="199.65" y="687.30" font-size="7.4" text-anchor="end" fill="#b5a5da" transform="rotate(-45 199.65 687.30)">Macrophages</text>
<rect x="207.40" y="679.00" width="21.10" height="1.80" fill="#9080c8"/>
<text x="221.95" y="687.30" font-size="7.4" text-anchor="end" fill="#8474be" transform="rotate(-45 221.95 687.30)">Mast</text>
<rect x="235.00" y="679.00" width="15.00" height="1.80" fill="#9890d0"/>
<text x="246.50" y="687.30" font-size="7.4" text-anchor="end" fill="#8a80c6" transform="rotate(-45 246.50 687.30)">Monocytes</text>
<rect x="256.10" y="679.00" width="19.20" height="1.80" fill="#8048a8"/>
<text x="269.70" y="687.30" font-size="7.4" text-anchor="end" fill="#733a9c" transform="rotate(-45 269.70 687.30)">Myoepithelial</text>
<rect x="281.50" y="679.00" width="15.30" height="1.80" fill="#e8a8d8"/>
<text x="293.15" y="687.30" font-size="7.4" text-anchor="end" fill="#e09ecf" transform="rotate(-45 293.15 687.30)">NK</text>
<rect x="302.90" y="679.00" width="26.60" height="1.80" fill="#a070c0"/>
<text x="320.20" y="687.30" font-size="7.4" text-anchor="end" fill="#9262b4" transform="rotate(-45 320.20 687.30)">Neutrophils</text>
<rect x="336.00" y="679.00" width="20.50" height="1.80" fill="#e8b0d8"/>
<text x="350.25" y="687.30" font-size="7.4" text-anchor="end" fill="#dfa2ce" transform="rotate(-45 350.25 687.30)">PVL</text>
<rect x="363.20" y="679.00" width="21.50" height="1.80" fill="#c05098"/>
<text x="377.95" y="687.30" font-size="7.4" text-anchor="end" fill="#b4448c" transform="rotate(-45 377.95 687.30)">Plasma</text>
<rect x="390.40" y="679.00" width="6.90" height="1.80" fill="#e8b0d8"/>
<text x="397.85" y="687.30" font-size="7.4" text-anchor="end" fill="#dfa2ce" transform="rotate(-45 397.85 687.30)">Regulatory T</text>
</svg></body></html>
